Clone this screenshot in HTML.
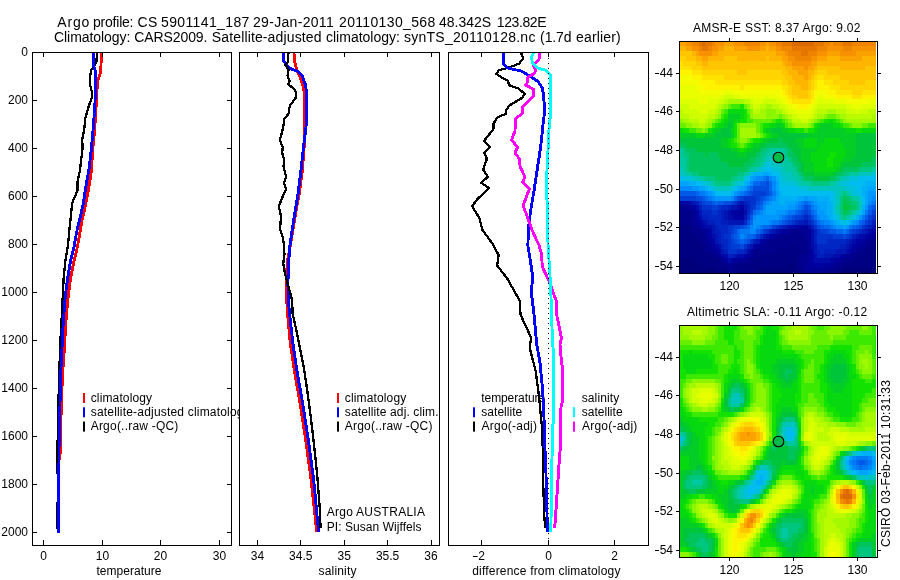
<!DOCTYPE html>
<html><head><meta charset="utf-8"><title>Argo profile</title>
<style>html,body{margin:0;padding:0;background:#fff;overflow:hidden}svg{display:block;will-change:transform}text{font-family:'Liberation Sans', sans-serif;fill:#000}</style>
</head><body>
<svg width="900" height="580" viewBox="0 0 900 580">
<rect width="900" height="580" fill="#fff"/>
<text y="27.3" font-size="14"><tspan x="57.3" textLength="32.1" lengthAdjust="spacing">Argo</tspan> <tspan x="93.0" textLength="40.5" lengthAdjust="spacing">profile:</tspan> <tspan x="137.6" textLength="19.8" lengthAdjust="spacing">CS</tspan> <tspan x="161.0" textLength="88.4" lengthAdjust="spacing">5901141_187</tspan> <tspan x="253.0" textLength="80.7" lengthAdjust="spacing">29-Jan-2011</tspan> <tspan x="339.0" textLength="96.2" lengthAdjust="spacing">20110130_568</tspan> <tspan x="439.0" textLength="52.0" lengthAdjust="spacing">48.342S</tspan> <tspan x="496.8" textLength="49.7" lengthAdjust="spacing">123.82E</tspan></text>
<text y="42.3" font-size="14"><tspan x="54.0" textLength="76.4" lengthAdjust="spacing">Climatology:</tspan> <tspan x="134.3" textLength="73.1" lengthAdjust="spacing">CARS2009.</tspan> <tspan x="211.8" textLength="109.7" lengthAdjust="spacing">Satellite-adjusted</tspan> <tspan x="326.0" textLength="73.9" lengthAdjust="spacing">climatology:</tspan> <tspan x="404.0" textLength="131.4" lengthAdjust="spacing">synTS_20110128.nc</tspan> <tspan x="540.1" textLength="31.4" lengthAdjust="spacing">(1.7d</tspan> <tspan x="576.0" textLength="44.7" lengthAdjust="spacing">earlier)</tspan></text>
<g id="ax1">
<polyline points="101.5,52.6 100.7,72.0 97.6,80.8 96.9,91.0 96.0,108.0 94.7,129.0 92.9,148.0 91.2,171.9 88.6,189.0 85.2,206.3 81.7,221.9 77.6,246.0 74.0,261.2 70.5,278.5 68.3,295.7 66.6,313.0 65.3,330.2 64.7,344.0 63.6,359.0 62.4,376.5 61.6,400.6 60.7,424.8 60.3,452.0 59.0,460.0 58.6,500.0 58.3,532.5" fill="none" stroke="#f00" stroke-width="2.9" stroke-linejoin="round" shape-rendering="crispEdges"/>
<polyline points="96.9,52.6 96.5,61.8 94.7,65.0 91.2,70.4 90.0,77.3 90.3,86.0 91.7,91.0 91.7,98.0 88.6,106.6 85.2,118.7 84.3,129.0 82.2,139.4 82.6,148.0 81.4,158.0 79.7,171.9 77.4,182.2 77.4,190.8 72.2,202.9 71.0,215.0 69.7,227.0 67.9,246.0 65.3,261.2 63.6,278.5 62.8,295.7 61.9,313.0 61.0,330.2 60.2,344.0 59.7,359.0 59.0,385.0 58.4,400.6 57.6,444.0 57.6,473.0 58.3,480.0 58.3,500.0 56.9,504.0 56.9,529.0" fill="none" stroke="#000" stroke-width="2.3" stroke-linejoin="round" shape-rendering="crispEdges"/>
<polyline points="93.4,52.6 93.4,65.0 95.2,70.4 95.5,91.0 94.7,108.0 93.4,125.6 91.5,148.0 89.1,168.4 86.0,185.7 83.4,202.9 80.0,218.4 76.6,232.2 74.2,246.0 70.5,261.2 67.6,278.5 65.3,295.7 64.0,313.0 62.8,330.2 62.2,344.0 61.0,367.9 60.2,393.7 59.7,419.6 59.1,442.0 58.6,521.0 58.1,532.8" fill="none" stroke="#00f" stroke-width="2.9" stroke-linejoin="round" shape-rendering="crispEdges"/>
<rect x="83" y="393.0" width="2" height="10" fill="#f00"/>
<rect x="83" y="407.3" width="2" height="10" fill="#00f"/>
<rect x="83" y="421.6" width="2" height="10" fill="#000"/>
<clipPath id="c1"><rect x="0" y="0" width="239" height="580"/></clipPath>
<g clip-path="url(#c1)">
<text x="90.7" y="401.5" font-size="12" text-anchor="start" textLength="61.4" lengthAdjust="spacing">climatology</text>
<text x="90.7" y="415.8" font-size="12" text-anchor="start" textLength="159" lengthAdjust="spacing">satellite-adjusted climatology</text>
<text x="90.7" y="430.0" font-size="12" text-anchor="start" textLength="87.6" lengthAdjust="spacing">Argo(..raw -QC)</text>
</g>
<rect x="32" y="52" width="200" height="1" fill="#000"/>
<rect x="32" y="545" width="200" height="1" fill="#000"/>
<rect x="32" y="52" width="1" height="494" fill="#000"/>
<rect x="231" y="52" width="1" height="494" fill="#000"/>
<rect x="43" y="540" width="1" height="5" fill="#000"/>
<rect x="43" y="52" width="1" height="5" fill="#000"/>
<rect x="102" y="540" width="1" height="5" fill="#000"/>
<rect x="102" y="52" width="1" height="5" fill="#000"/>
<rect x="160" y="540" width="1" height="5" fill="#000"/>
<rect x="160" y="52" width="1" height="5" fill="#000"/>
<rect x="219" y="540" width="1" height="5" fill="#000"/>
<rect x="219" y="52" width="1" height="5" fill="#000"/>
<rect x="32" y="52" width="5" height="1" fill="#000"/>
<rect x="227" y="52" width="4" height="1" fill="#000"/>
<text x="28" y="56.3" font-size="12" text-anchor="end">0</text>
<rect x="32" y="100" width="5" height="1" fill="#000"/>
<rect x="227" y="100" width="4" height="1" fill="#000"/>
<text x="28" y="104.3" font-size="12" text-anchor="end">200</text>
<rect x="32" y="148" width="5" height="1" fill="#000"/>
<rect x="227" y="148" width="4" height="1" fill="#000"/>
<text x="28" y="152.3" font-size="12" text-anchor="end">400</text>
<rect x="32" y="196" width="5" height="1" fill="#000"/>
<rect x="227" y="196" width="4" height="1" fill="#000"/>
<text x="28" y="200.3" font-size="12" text-anchor="end">600</text>
<rect x="32" y="244" width="5" height="1" fill="#000"/>
<rect x="227" y="244" width="4" height="1" fill="#000"/>
<text x="28" y="248.3" font-size="12" text-anchor="end">800</text>
<rect x="32" y="292" width="5" height="1" fill="#000"/>
<rect x="227" y="292" width="4" height="1" fill="#000"/>
<text x="28" y="296.3" font-size="12" text-anchor="end">1000</text>
<rect x="32" y="340" width="5" height="1" fill="#000"/>
<rect x="227" y="340" width="4" height="1" fill="#000"/>
<text x="28" y="344.3" font-size="12" text-anchor="end">1200</text>
<rect x="32" y="388" width="5" height="1" fill="#000"/>
<rect x="227" y="388" width="4" height="1" fill="#000"/>
<text x="28" y="392.3" font-size="12" text-anchor="end">1400</text>
<rect x="32" y="436" width="5" height="1" fill="#000"/>
<rect x="227" y="436" width="4" height="1" fill="#000"/>
<text x="28" y="440.3" font-size="12" text-anchor="end">1600</text>
<rect x="32" y="484" width="5" height="1" fill="#000"/>
<rect x="227" y="484" width="4" height="1" fill="#000"/>
<text x="28" y="488.3" font-size="12" text-anchor="end">1800</text>
<rect x="32" y="532" width="5" height="1" fill="#000"/>
<rect x="227" y="532" width="4" height="1" fill="#000"/>
<text x="28" y="536.3" font-size="12" text-anchor="end">2000</text>
<text x="43.5" y="560" font-size="12" text-anchor="middle">0</text>
<text x="102.5" y="560" font-size="12" text-anchor="middle">10</text>
<text x="160.5" y="560" font-size="12" text-anchor="middle">20</text>
<text x="219.5" y="560" font-size="12" text-anchor="middle">30</text>
<text x="96.5" y="574.5" font-size="12" text-anchor="start" textLength="65" lengthAdjust="spacing">temperature</text>
</g>
<g id="ax2">
<polyline points="293.9,52.6 294.8,61.8 296.5,69.6 299.9,76.4 303.0,86.0 304.6,94.6 304.8,120.4 304.6,134.2 304.2,146.0 302.2,171.9 299.4,192.6 295.6,213.2 293.0,228.8 290.2,246.0 287.5,261.0 286.1,278.5 286.1,295.7 287.0,304.3 288.2,321.6 290.4,344.0 294.8,373.0 299.9,402.3 306.0,442.0 311.1,479.7 316.8,532.2" fill="none" stroke="#f00" stroke-width="2.9" stroke-linejoin="round" shape-rendering="crispEdges"/>
<polyline points="283.9,52.6 283.6,60.9 287.0,66.1 292.2,69.6 298.2,71.3 302.5,76.4 305.6,85.1 306.8,94.6 306.8,120.4 305.1,134.2 303.4,148.0 300.8,171.9 298.2,192.6 294.8,213.2 291.8,232.2 289.9,246.0 288.7,261.2 287.9,283.7 288.4,300.9 290.4,321.6 293.0,344.0 297.3,373.0 302.5,402.3 308.6,442.0 313.7,479.7 318.6,532.2" fill="none" stroke="#00f" stroke-width="2.9" stroke-linejoin="round" shape-rendering="crispEdges"/>
<polyline points="288.4,52.6 288.2,61.8 285.3,65.2 288.7,69.6 287.5,75.6 289.6,80.8 288.2,84.6 293.9,88.5 296.1,92.8 295.6,98.0 290.4,104.9 288.7,109.2 288.7,113.5 284.4,118.7 283.2,127.3 281.5,134.2 279.8,140.2 282.7,147.1 282.2,152.9 283.9,158.9 283.6,166.7 286.1,177.0 284.1,183.1 286.1,189.1 282.2,197.7 278.9,206.3 281.0,216.7 280.1,228.8 282.7,237.4 284.2,246.0 284.4,254.3 283.2,263.8 285.3,275.0 288.7,287.1 292.2,300.9 292.5,313.0 295.6,326.8 299.1,344.0 304.2,369.6 307.7,393.7 311.1,419.6 313.7,442.0 317.2,474.5 319.8,509.0 320.6,528.0" fill="none" stroke="#000" stroke-width="2.3" stroke-linejoin="round" shape-rendering="crispEdges"/>
<rect x="337" y="393.0" width="2" height="10" fill="#f00"/>
<rect x="337" y="407.3" width="2" height="10" fill="#00f"/>
<rect x="337" y="421.6" width="2" height="10" fill="#000"/>
<text x="344.8" y="401.5" font-size="12" text-anchor="start" textLength="61.4" lengthAdjust="spacing">climatology</text>
<text x="344.8" y="415.8" font-size="12" text-anchor="start" textLength="93.7" lengthAdjust="spacing">satellite adj. clim.</text>
<text x="344.8" y="430.0" font-size="12" text-anchor="start" textLength="87.6" lengthAdjust="spacing">Argo(..raw -QC)</text>
<text x="326.7" y="516.2" font-size="12" text-anchor="start" textLength="98.3" lengthAdjust="spacing">Argo AUSTRALIA</text>
<text x="326.7" y="530.5" font-size="12" text-anchor="start" textLength="94.8" lengthAdjust="spacing">PI: Susan Wijffels</text>
<rect x="239" y="52" width="201" height="1" fill="#000"/>
<rect x="239" y="545" width="201" height="1" fill="#000"/>
<rect x="239" y="52" width="1" height="494" fill="#000"/>
<rect x="439" y="52" width="1" height="494" fill="#000"/>
<rect x="257" y="540" width="1" height="5" fill="#000"/>
<rect x="257" y="52" width="1" height="5" fill="#000"/>
<rect x="300" y="540" width="1" height="5" fill="#000"/>
<rect x="300" y="52" width="1" height="5" fill="#000"/>
<rect x="344" y="540" width="1" height="5" fill="#000"/>
<rect x="344" y="52" width="1" height="5" fill="#000"/>
<rect x="387" y="540" width="1" height="5" fill="#000"/>
<rect x="387" y="52" width="1" height="5" fill="#000"/>
<rect x="431" y="540" width="1" height="5" fill="#000"/>
<rect x="431" y="52" width="1" height="5" fill="#000"/>
<text x="257.5" y="560" font-size="12" text-anchor="middle">34</text>
<text x="300.8" y="560" font-size="12" text-anchor="middle">34.5</text>
<text x="344.3" y="560" font-size="12" text-anchor="middle">35</text>
<text x="387.6" y="560" font-size="12" text-anchor="middle">35.5</text>
<text x="431" y="560" font-size="12" text-anchor="middle">36</text>
<text x="318.5" y="574.5" font-size="12" text-anchor="start" textLength="38" lengthAdjust="spacing">salinity</text>
</g>
<g id="ax3">
<text x="481.3" y="401.5" font-size="12" text-anchor="start" textLength="63.8" lengthAdjust="spacing">temperature</text>
<text x="481.3" y="415.8" font-size="12" text-anchor="start" textLength="40.9" lengthAdjust="spacing">satellite</text>
<text x="481.6" y="430.0" font-size="12" text-anchor="start" textLength="55.3" lengthAdjust="spacing">Argo(-adj)</text>
<text x="581.7" y="401.5" font-size="12" text-anchor="start" textLength="37.5" lengthAdjust="spacing">salinity</text>
<text x="581.7" y="415.8" font-size="12" text-anchor="start" textLength="40.9" lengthAdjust="spacing">satellite</text>
<text x="582.0" y="430.0" font-size="12" text-anchor="start" textLength="55.3" lengthAdjust="spacing">Argo(-adj)</text>
<rect x="473" y="407.3" width="2" height="10" fill="#00f"/>
<rect x="473" y="421.6" width="2" height="10" fill="#000"/>
<rect x="573" y="407.3" width="2" height="10" fill="#0ff"/>
<rect x="573" y="421.6" width="2" height="10" fill="#f0f"/>
<polyline points="521.0,52.6 523.1,58.3 519.3,63.5 510.7,67.0 498.6,70.4 496.5,73.9 501.2,77.3 508.1,80.8 508.9,85.1 518.4,88.5 524.8,93.7 521.9,98.0 508.9,105.8 506.3,110.1 506.3,113.5 496.9,117.8 493.4,123.9 493.4,129.0 483.9,141.1 490.0,147.0 484.3,153.2 486.9,158.9 483.1,169.3 487.9,177.0 481.0,182.6 489.1,188.2 477.0,199.4 472.2,206.3 479.6,218.4 482.2,229.6 493.4,245.0 498.6,255.2 497.2,265.6 507.2,278.5 519.8,300.9 520.5,314.7 531.3,338.0 530.1,344.0 530.0,348.9 535.7,371.3 539.1,397.2 541.7,424.8 542.6,442.0 543.4,490.0 544.3,515.9 545.1,528.0" fill="none" stroke="#000" stroke-width="2.3" stroke-linejoin="round" shape-rendering="crispEdges"/>
<polyline points="503.2,52.6 503.2,63.5 507.2,67.8 521.9,71.3 530.5,76.4 538.2,81.6 542.6,88.5 543.9,99.7 544.6,111.8 542.9,125.6 541.7,137.7 540.5,148.0 537.4,168.4 534.3,189.1 530.5,211.5 528.4,228.8 527.9,246.0 530.5,261.2 532.7,276.8 531.3,292.3 533.9,313.0 536.7,344.0 540.0,362.7 542.2,385.1 543.8,411.0 544.7,442.0 546.0,474.5 546.9,509.0 547.4,532.2" fill="none" stroke="#00f" stroke-width="2.9" stroke-linejoin="round" shape-rendering="crispEdges"/>
<polyline points="539.6,52.6 539.1,59.2 533.1,65.2 535.7,69.6 534.8,73.0 527.9,77.3 527.9,81.6 525.7,85.1 533.9,89.4 533.6,96.3 522.7,106.6 522.4,113.5 515.5,118.7 515.0,130.8 511.5,140.2 517.6,147.0 515.0,152.9 519.3,158.9 520.1,166.7 525.0,177.0 522.7,182.2 529.3,189.1 523.1,205.5 527.9,218.4 532.2,230.5 538.9,245.0 541.7,254.3 542.2,266.4 549.4,281.9 556.9,302.6 556.3,313.0 561.5,338.0 560.0,344.0 561.2,359.2 562.9,371.3 562.4,386.8 562.9,398.9 561.0,407.5 560.1,419.6 560.7,442.0 558.9,465.9 557.2,491.7 555.5,517.6 554.6,528.3" fill="none" stroke="#f0f" stroke-width="2.9" stroke-linejoin="round" shape-rendering="crispEdges"/>
<polyline points="533.9,52.6 531.7,56.6 532.2,62.7 537.4,67.8 546.0,70.4 550.3,74.7 550.8,91.1 550.3,117.0 548.9,130.8 548.1,148.0 546.9,171.9 546.3,189.1 547.4,206.3 547.4,223.6 548.1,246.0 549.4,266.4 550.7,287.1 551.5,313.0 552.6,344.0 553.8,354.1 553.8,419.6 552.6,426.5 552.5,442.0 551.5,474.5 551.2,509.0 550.8,532.2" fill="none" stroke="#0ff" stroke-width="2.9" stroke-linejoin="round" shape-rendering="crispEdges"/>
<line x1="548.5" y1="53" x2="548.5" y2="545" stroke="#000" stroke-width="1" stroke-dasharray="1 4" shape-rendering="crispEdges"/>
<rect x="448" y="52" width="201" height="1" fill="#000"/>
<rect x="448" y="545" width="201" height="1" fill="#000"/>
<rect x="448" y="52" width="1" height="494" fill="#000"/>
<rect x="648" y="52" width="1" height="494" fill="#000"/>
<rect x="481" y="540" width="1" height="5" fill="#000"/>
<rect x="481" y="52" width="1" height="5" fill="#000"/>
<rect x="548" y="540" width="1" height="5" fill="#000"/>
<rect x="548" y="52" width="1" height="5" fill="#000"/>
<rect x="614" y="540" width="1" height="5" fill="#000"/>
<rect x="614" y="52" width="1" height="5" fill="#000"/>
<text x="481.7" y="560" font-size="12" text-anchor="middle">2</text>
<text x="548.5" y="560" font-size="12" text-anchor="middle">0</text>
<text x="614.5" y="560" font-size="12" text-anchor="middle">2</text>
<rect x="473" y="556" width="4.600000000000023" height="1" fill="#000"/>
<text x="472.2" y="574.5" font-size="12" text-anchor="start" textLength="148.2" lengthAdjust="spacing">difference from climatology</text>
</g>
<g>
<clipPath id="cm41"><rect x="679" y="41" width="197" height="233"/></clipPath>
<g clip-path="url(#cm41)">
<g transform="translate(679.5,41.5) scale(3.2,4.82)" shape-rendering="crispEdges">
<path fill="#fba200" d="M0 0h2v1h-2zM14 0h3v1h-3zM27 0h1v1h-1zM2 1h2v1h-2zM12 1h2v1h-2zM17 1h4v1h-4zM25 1h2v1h-2zM28 1h2v1h-2zM5 2h1v1h-1zM10 2h2v1h-2zM30 2h3v1h-3zM46 2h4v1h-4zM55 2h7v1h-7zM7 3h2v1h-2zM32 3h2v1h-2zM43 3h3v1h-3zM50 3h7v1h-7zM33 4h2v1h-2zM41 4h2v1h-2zM35 5h4v1h-4zM40 5h2v1h-2zM37 6h3v1h-3zM39 7h1v1h-1z"/>
<path fill="#f79100" d="M2 0h2v1h-2zM11 0h3v1h-3zM17 0h3v1h-3zM25 0h2v1h-2zM28 0h2v1h-2zM47 0h1v1h-1zM4 1h2v1h-2zM10 1h2v1h-2zM21 1h4v1h-4zM30 1h2v1h-2zM46 1h5v1h-5zM54 1h8v1h-8zM6 2h4v1h-4zM33 2h1v1h-1zM43 2h3v1h-3zM50 2h5v1h-5zM34 3h2v1h-2zM41 3h2v1h-2zM35 4h6v1h-6zM39 5h1v1h-1z"/>
<path fill="#ee8400" d="M4 0h2v1h-2zM10 0h1v1h-1zM20 0h5v1h-5zM30 0h2v1h-2zM45 0h2v1h-2zM48 0h3v1h-3zM54 0h8v1h-8zM6 1h1v1h-1zM9 1h1v1h-1zM32 1h3v1h-3zM43 1h3v1h-3zM51 1h3v1h-3zM34 2h4v1h-4zM40 2h3v1h-3zM36 3h5v1h-5z"/>
<path fill="#e57600" d="M6 0h1v1h-1zM8 0h2v1h-2zM32 0h3v1h-3zM42 0h3v1h-3zM51 0h3v1h-3zM7 1h2v1h-2zM35 1h8v1h-8zM38 2h2v1h-2z"/>
<path fill="#dc6900" d="M7 0h1v1h-1zM35 0h7v1h-7z"/>
<path fill="#fdb500" d="M0 1h2v1h-2zM14 1h3v1h-3zM27 1h1v1h-1zM4 2h1v1h-1zM12 2h18v1h-18zM5 3h2v1h-2zM9 3h5v1h-5zM18 3h9v1h-9zM28 3h4v1h-4zM46 3h4v1h-4zM57 3h5v1h-5zM7 4h2v1h-2zM32 4h1v1h-1zM43 4h19v1h-19zM33 5h2v1h-2zM42 5h1v1h-1zM50 5h8v1h-8zM34 6h3v1h-3zM40 6h2v1h-2zM35 7h4v1h-4zM40 7h1v1h-1zM36 8h4v1h-4zM38 9h2v1h-2z"/>
<path fill="#ffc600" d="M0 2h4v1h-4zM2 3h3v1h-3zM14 3h4v1h-4zM27 3h1v1h-1zM5 4h2v1h-2zM9 4h23v1h-23zM7 5h26v1h-26zM43 5h7v1h-7zM58 5h4v1h-4zM18 6h3v1h-3zM32 6h2v1h-2zM42 6h1v1h-1zM46 6h16v1h-16zM33 7h2v1h-2zM41 7h1v1h-1zM50 7h12v1h-12zM34 8h2v1h-2zM40 8h1v1h-1zM53 8h5v1h-5zM35 9h3v1h-3zM40 9h1v1h-1zM35 10h5v1h-5zM37 11h3v1h-3z"/>
<path fill="#ffd400" d="M0 3h2v1h-2zM1 4h4v1h-4zM4 5h3v1h-3zM7 6h11v1h-11zM21 6h11v1h-11zM43 6h3v1h-3zM14 7h19v1h-19zM42 7h1v1h-1zM45 7h5v1h-5zM32 8h2v1h-2zM41 8h1v1h-1zM48 8h5v1h-5zM58 8h4v1h-4zM34 9h1v1h-1zM41 9h1v1h-1zM50 9h12v1h-12zM34 10h1v1h-1zM40 10h1v1h-1zM54 10h3v1h-3zM35 11h2v1h-2zM40 11h1v1h-1z"/>
<path fill="#ffe300" d="M0 4h1v1h-1zM0 5h4v1h-4zM4 6h3v1h-3zM7 7h7v1h-7zM43 7h2v1h-2zM11 8h21v1h-21zM42 8h1v1h-1zM45 8h3v1h-3zM19 9h1v1h-1zM32 9h2v1h-2zM42 9h1v1h-1zM47 9h3v1h-3zM33 10h1v1h-1zM41 10h1v1h-1zM49 10h5v1h-5zM57 10h5v1h-5zM34 11h1v1h-1zM41 11h1v1h-1zM54 11h3v1h-3zM35 12h6v1h-6z"/>
<path fill="#fff300" d="M0 6h4v1h-4zM4 7h3v1h-3zM6 8h5v1h-5zM43 8h2v1h-2zM8 9h11v1h-11zM20 9h12v1h-12zM43 9h4v1h-4zM32 10h1v1h-1zM42 10h1v1h-1zM46 10h3v1h-3zM33 11h1v1h-1zM49 11h5v1h-5zM57 11h5v1h-5zM34 12h1v1h-1zM41 12h1v1h-1zM37 13h3v1h-3z"/>
<path fill="#f5fb00" d="M0 7h4v1h-4zM0 8h6v1h-6zM5 9h3v1h-3zM6 10h8v1h-8zM17 10h15v1h-15zM43 10h3v1h-3zM31 11h2v1h-2zM42 11h1v1h-1zM45 11h4v1h-4zM33 12h1v1h-1zM52 12h7v1h-7zM35 13h2v1h-2zM40 13h1v1h-1z"/>
<path fill="#e9ff00" d="M0 9h5v1h-5zM0 10h6v1h-6zM14 10h3v1h-3zM0 11h13v1h-13zM19 11h8v1h-8zM28 11h3v1h-3zM43 11h2v1h-2zM6 12h3v1h-3zM32 12h1v1h-1zM42 12h1v1h-1zM48 12h4v1h-4zM59 12h3v1h-3zM34 13h1v1h-1zM41 13h1v1h-1zM54 13h3v1h-3zM36 14h5v1h-5z"/>
<path fill="#ddff00" d="M13 11h1v1h-1zM17 11h2v1h-2zM27 11h1v1h-1zM0 12h6v1h-6zM9 12h3v1h-3zM23 12h3v1h-3zM30 12h2v1h-2zM43 12h5v1h-5zM3 13h8v1h-8zM33 13h1v1h-1zM42 13h1v1h-1zM52 13h2v1h-2zM57 13h5v1h-5zM6 14h3v1h-3zM34 14h2v1h-2zM41 14h1v1h-1zM55 14h1v1h-1zM37 15h4v1h-4z"/>
<path fill="#cefe00" d="M14 11h3v1h-3zM12 12h2v1h-2zM22 12h1v1h-1zM26 12h4v1h-4zM0 13h3v1h-3zM11 13h1v1h-1zM23 13h2v1h-2zM31 13h2v1h-2zM43 13h9v1h-9zM1 14h5v1h-5zM9 14h2v1h-2zM33 14h1v1h-1zM42 14h1v1h-1zM52 14h3v1h-3zM56 14h3v1h-3zM3 15h6v1h-6zM35 15h2v1h-2zM41 15h1v1h-1zM6 16h2v1h-2zM38 16h2v1h-2z"/>
<path fill="#bbfb00" d="M14 12h1v1h-1zM20 12h2v1h-2zM12 13h1v1h-1zM22 13h1v1h-1zM25 13h2v1h-2zM29 13h2v1h-2zM0 14h1v1h-1zM11 14h1v1h-1zM23 14h2v1h-2zM32 14h1v1h-1zM43 14h3v1h-3zM49 14h3v1h-3zM59 14h3v1h-3zM0 15h3v1h-3zM9 15h2v1h-2zM34 15h1v1h-1zM42 15h1v1h-1zM52 15h8v1h-8zM3 16h3v1h-3zM8 16h1v1h-1zM35 16h3v1h-3zM40 16h1v1h-1zM6 17h2v1h-2z"/>
<path fill="#a4f800" d="M15 12h5v1h-5zM13 13h1v1h-1zM27 13h2v1h-2zM12 14h1v1h-1zM25 14h2v1h-2zM30 14h2v1h-2zM46 14h3v1h-3zM11 15h1v1h-1zM23 15h4v1h-4zM33 15h1v1h-1zM43 15h2v1h-2zM50 15h2v1h-2zM60 15h2v1h-2zM1 16h2v1h-2zM9 16h1v1h-1zM41 16h1v1h-1zM52 16h10v1h-10zM4 17h2v1h-2zM8 17h1v1h-1zM36 17h4v1h-4zM19 18h5v1h-5zM19 19h5v1h-5z"/>
<path fill="#8af600" d="M14 13h1v1h-1zM21 13h1v1h-1zM22 14h1v1h-1zM27 14h3v1h-3zM12 15h1v1h-1zM22 15h1v1h-1zM27 15h4v1h-4zM32 15h1v1h-1zM45 15h1v1h-1zM49 15h1v1h-1zM0 16h1v1h-1zM10 16h1v1h-1zM34 16h1v1h-1zM42 16h1v1h-1zM51 16h1v1h-1zM2 17h2v1h-2zM9 17h1v1h-1zM19 17h5v1h-5zM35 17h1v1h-1zM40 17h1v1h-1zM54 17h3v1h-3zM7 18h1v1h-1zM24 19h1v1h-1zM19 20h2v1h-2z"/>
<path fill="#66f000" d="M15 13h1v1h-1zM20 13h1v1h-1zM13 14h1v1h-1zM21 14h1v1h-1zM31 15h1v1h-1zM46 15h3v1h-3zM11 16h1v1h-1zM23 16h6v1h-6zM33 16h1v1h-1zM43 16h1v1h-1zM50 16h1v1h-1zM0 17h2v1h-2zM18 17h1v1h-1zM24 17h1v1h-1zM34 17h1v1h-1zM41 17h1v1h-1zM53 17h1v1h-1zM57 17h2v1h-2zM5 18h2v1h-2zM8 18h1v1h-1zM18 18h1v1h-1zM24 18h1v1h-1zM18 19h1v1h-1zM25 19h1v1h-1zM18 20h1v1h-1zM21 20h1v1h-1zM19 21h1v1h-1z"/>
<path fill="#3ce900" d="M16 13h3v1h-3zM14 14h1v1h-1zM13 15h1v1h-1zM21 15h1v1h-1zM12 16h1v1h-1zM21 16h2v1h-2zM29 16h1v1h-1zM32 16h1v1h-1zM44 16h1v1h-1zM49 16h1v1h-1zM10 17h1v1h-1zM25 17h1v1h-1zM33 17h1v1h-1zM51 17h2v1h-2zM59 17h3v1h-3zM3 18h2v1h-2zM25 18h1v1h-1zM39 18h1v1h-1zM26 19h1v1h-1zM17 20h1v1h-1zM22 20h1v1h-1zM18 21h1v1h-1zM20 21h1v1h-1z"/>
<path fill="#12e200" d="M19 13h1v1h-1zM20 14h1v1h-1zM14 15h1v1h-1zM20 15h1v1h-1zM13 16h1v1h-1zM19 16h2v1h-2zM30 16h2v1h-2zM45 16h2v1h-2zM48 16h1v1h-1zM11 17h1v1h-1zM17 17h1v1h-1zM26 17h2v1h-2zM42 17h1v1h-1zM50 17h1v1h-1zM1 18h2v1h-2zM9 18h1v1h-1zM17 18h1v1h-1zM36 18h3v1h-3zM40 18h2v1h-2zM55 18h2v1h-2zM17 19h1v1h-1zM27 19h1v1h-1zM16 20h1v1h-1zM23 20h2v1h-2zM16 21h2v1h-2zM21 21h1v1h-1zM19 22h1v1h-1zM47 23h2v1h-2zM46 24h2v1h-2zM46 25h2v1h-2z"/>
<path fill="#07d911" d="M15 14h5v1h-5zM19 15h1v1h-1zM14 16h1v1h-1zM17 16h2v1h-2zM47 16h1v1h-1zM12 17h2v1h-2zM28 17h2v1h-2zM32 17h1v1h-1zM43 17h1v1h-1zM48 17h2v1h-2zM0 18h1v1h-1zM10 18h1v1h-1zM16 18h1v1h-1zM26 18h1v1h-1zM34 18h2v1h-2zM42 18h1v1h-1zM52 18h3v1h-3zM57 18h5v1h-5zM5 19h3v1h-3zM28 19h1v1h-1zM15 20h1v1h-1zM25 20h1v1h-1zM39 20h4v1h-4zM45 20h5v1h-5zM15 21h1v1h-1zM22 21h1v1h-1zM39 21h4v1h-4zM44 21h7v1h-7zM18 22h1v1h-1zM20 22h1v1h-1zM43 22h9v1h-9zM41 23h6v1h-6zM49 23h3v1h-3zM41 24h5v1h-5zM48 24h3v1h-3zM42 25h4v1h-4zM48 25h2v1h-2zM42 26h7v1h-7z"/>
<path fill="#04ce26" d="M15 15h4v1h-4zM15 16h2v1h-2zM14 17h1v1h-1zM16 17h1v1h-1zM30 17h2v1h-2zM44 17h4v1h-4zM11 18h2v1h-2zM27 18h2v1h-2zM32 18h2v1h-2zM43 18h9v1h-9zM0 19h5v1h-5zM8 19h3v1h-3zM16 19h1v1h-1zM29 19h2v1h-2zM40 19h15v1h-15zM13 20h2v1h-2zM26 20h2v1h-2zM36 20h3v1h-3zM43 20h2v1h-2zM50 20h5v1h-5zM13 21h2v1h-2zM23 21h2v1h-2zM37 21h2v1h-2zM43 21h1v1h-1zM51 21h4v1h-4zM16 22h2v1h-2zM21 22h2v1h-2zM38 22h5v1h-5zM52 22h3v1h-3zM18 23h3v1h-3zM38 23h3v1h-3zM52 23h3v1h-3zM38 24h3v1h-3zM51 24h3v1h-3zM39 25h3v1h-3zM50 25h1v1h-1zM39 26h3v1h-3zM49 26h1v1h-1zM42 27h6v1h-6z"/>
<path fill="#00c43a" d="M15 17h1v1h-1zM13 18h3v1h-3zM29 18h3v1h-3zM11 19h5v1h-5zM31 19h9v1h-9zM55 19h7v1h-7zM0 20h13v1h-13zM28 20h3v1h-3zM32 20h4v1h-4zM55 20h7v1h-7zM2 21h11v1h-11zM25 21h2v1h-2zM34 21h3v1h-3zM55 21h7v1h-7zM5 22h11v1h-11zM23 22h2v1h-2zM35 22h3v1h-3zM55 22h7v1h-7zM8 23h1v1h-1zM12 23h6v1h-6zM21 23h3v1h-3zM36 23h2v1h-2zM55 23h7v1h-7zM13 24h9v1h-9zM37 24h1v1h-1zM54 24h6v1h-6zM15 25h5v1h-5zM38 25h1v1h-1zM51 25h6v1h-6zM38 26h1v1h-1zM50 26h1v1h-1zM39 27h3v1h-3zM48 27h1v1h-1zM42 28h5v1h-5zM51 33h1v1h-1zM51 34h2v1h-2z"/>
<path fill="#00c55c" d="M31 20h1v1h-1zM0 21h2v1h-2zM27 21h7v1h-7zM2 22h3v1h-3zM25 22h1v1h-1zM34 22h1v1h-1zM3 23h5v1h-5zM9 23h3v1h-3zM24 23h1v1h-1zM34 23h2v1h-2zM3 24h10v1h-10zM22 24h2v1h-2zM35 24h2v1h-2zM60 24h2v1h-2zM3 25h12v1h-12zM20 25h3v1h-3zM36 25h2v1h-2zM57 25h4v1h-4zM3 26h18v1h-18zM37 26h1v1h-1zM51 26h5v1h-5zM6 27h12v1h-12zM38 27h1v1h-1zM49 27h2v1h-2zM11 28h5v1h-5zM39 28h3v1h-3zM47 28h2v1h-2zM51 32h2v1h-2zM52 33h2v1h-2zM53 34h2v1h-2zM51 35h2v1h-2z"/>
<path fill="#00c8a1" d="M0 22h1v1h-1zM28 22h5v1h-5zM0 23h1v1h-1zM27 23h2v1h-2zM32 23h1v1h-1zM0 24h2v1h-2zM26 24h1v1h-1zM32 24h2v1h-2zM0 25h2v1h-2zM25 25h1v1h-1zM32 25h3v1h-3zM1 26h1v1h-1zM22 26h2v1h-2zM33 26h3v1h-3zM60 26h2v1h-2zM2 27h2v1h-2zM20 27h1v1h-1zM35 27h2v1h-2zM53 27h3v1h-3zM6 28h2v1h-2zM18 28h2v1h-2zM36 28h2v1h-2zM50 28h1v1h-1zM10 29h1v1h-1zM16 29h1v1h-1zM38 29h3v1h-3zM47 29h2v1h-2zM50 31h1v1h-1zM52 31h1v1h-1zM54 32h2v1h-2zM49 34h1v1h-1zM54 35h1v1h-1zM50 36h1v1h-1zM52 36h1v1h-1z"/>
<path fill="#00c67f" d="M1 22h1v1h-1zM26 22h2v1h-2zM33 22h1v1h-1zM1 23h2v1h-2zM25 23h2v1h-2zM33 23h1v1h-1zM2 24h1v1h-1zM24 24h2v1h-2zM34 24h1v1h-1zM2 25h1v1h-1zM23 25h2v1h-2zM35 25h1v1h-1zM61 25h1v1h-1zM2 26h1v1h-1zM21 26h1v1h-1zM36 26h1v1h-1zM56 26h4v1h-4zM4 27h2v1h-2zM18 27h2v1h-2zM37 27h1v1h-1zM51 27h2v1h-2zM8 28h3v1h-3zM16 28h2v1h-2zM38 28h1v1h-1zM49 28h1v1h-1zM11 29h5v1h-5zM41 29h6v1h-6zM51 31h1v1h-1zM50 32h1v1h-1zM53 32h1v1h-1zM50 33h1v1h-1zM54 33h2v1h-2zM50 34h1v1h-1zM55 34h1v1h-1zM50 35h1v1h-1zM53 35h1v1h-1zM51 36h1v1h-1z"/>
<path fill="#00c4bd" d="M29 23h3v1h-3zM27 24h5v1h-5zM26 25h1v1h-1zM29 25h3v1h-3zM0 26h1v1h-1zM24 26h1v1h-1zM31 26h2v1h-2zM0 27h2v1h-2zM21 27h1v1h-1zM32 27h3v1h-3zM56 27h4v1h-4zM4 28h2v1h-2zM33 28h3v1h-3zM51 28h2v1h-2zM9 29h1v1h-1zM17 29h1v1h-1zM36 29h2v1h-2zM49 29h1v1h-1zM11 30h5v1h-5zM40 30h12v1h-12zM49 31h1v1h-1zM53 31h1v1h-1zM49 32h1v1h-1zM49 33h1v1h-1zM56 33h1v1h-1zM56 34h1v1h-1zM49 35h1v1h-1zM55 35h1v1h-1zM53 36h1v1h-1z"/>
<path fill="#00c1d9" d="M27 25h2v1h-2zM25 26h2v1h-2zM29 26h2v1h-2zM22 27h1v1h-1zM31 27h1v1h-1zM60 27h2v1h-2zM1 28h3v1h-3zM20 28h1v1h-1zM31 28h2v1h-2zM53 28h3v1h-3zM7 29h2v1h-2zM18 29h2v1h-2zM32 29h4v1h-4zM50 29h3v1h-3zM10 30h1v1h-1zM16 30h1v1h-1zM37 30h3v1h-3zM52 30h3v1h-3zM48 31h1v1h-1zM54 31h2v1h-2zM48 32h1v1h-1zM56 32h1v1h-1zM48 33h1v1h-1zM48 34h1v1h-1zM48 35h1v1h-1zM49 36h1v1h-1zM54 36h1v1h-1zM51 37h1v1h-1z"/>
<path fill="#00bcf1" d="M27 26h2v1h-2zM29 27h2v1h-2zM0 28h1v1h-1zM21 28h1v1h-1zM56 28h5v1h-5zM5 29h2v1h-2zM31 29h1v1h-1zM53 29h5v1h-5zM9 30h1v1h-1zM17 30h1v1h-1zM31 30h6v1h-6zM55 30h2v1h-2zM11 31h5v1h-5zM32 31h16v1h-16zM56 31h1v1h-1zM47 32h1v1h-1zM57 32h1v1h-1zM57 33h1v1h-1zM56 35h1v1h-1zM48 36h1v1h-1zM50 37h1v1h-1zM52 37h1v1h-1z"/>
<path fill="#00b0f5" d="M23 27h3v1h-3zM28 27h1v1h-1zM30 28h1v1h-1zM61 28h1v1h-1zM3 29h2v1h-2zM20 29h1v1h-1zM58 29h4v1h-4zM8 30h1v1h-1zM18 30h1v1h-1zM57 30h2v1h-2zM16 31h1v1h-1zM31 31h1v1h-1zM57 31h1v1h-1zM31 32h6v1h-6zM43 32h4v1h-4zM31 33h2v1h-2zM46 33h2v1h-2zM46 34h2v1h-2zM57 34h1v1h-1zM46 35h2v1h-2zM47 36h1v1h-1zM55 36h1v1h-1zM49 37h1v1h-1zM53 37h1v1h-1z"/>
<path fill="#00a4fa" d="M26 27h2v1h-2zM22 28h1v1h-1zM0 29h3v1h-3zM21 29h1v1h-1zM30 29h1v1h-1zM6 30h2v1h-2zM19 30h1v1h-1zM30 30h1v1h-1zM59 30h3v1h-3zM10 31h1v1h-1zM58 31h1v1h-1zM30 32h1v1h-1zM37 32h2v1h-2zM40 32h3v1h-3zM58 32h1v1h-1zM29 33h2v1h-2zM33 33h3v1h-3zM43 33h3v1h-3zM58 33h1v1h-1zM27 34h7v1h-7zM44 34h2v1h-2zM27 35h3v1h-3zM45 35h1v1h-1zM57 35h1v1h-1zM46 36h1v1h-1zM48 37h1v1h-1zM51 38h1v1h-1z"/>
<path fill="#0098fe" d="M23 28h1v1h-1zM29 28h1v1h-1zM4 30h2v1h-2zM20 30h1v1h-1zM9 31h1v1h-1zM17 31h1v1h-1zM30 31h1v1h-1zM59 31h3v1h-3zM11 32h5v1h-5zM39 32h1v1h-1zM59 32h1v1h-1zM28 33h1v1h-1zM36 33h1v1h-1zM42 33h1v1h-1zM34 34h2v1h-2zM43 34h1v1h-1zM58 34h1v1h-1zM26 35h1v1h-1zM30 35h3v1h-3zM43 35h2v1h-2zM24 36h7v1h-7zM44 36h2v1h-2zM56 36h1v1h-1zM23 37h5v1h-5zM47 37h1v1h-1zM54 37h1v1h-1zM23 38h1v1h-1zM49 38h2v1h-2zM52 38h1v1h-1z"/>
<path fill="#0089fa" d="M24 28h2v1h-2zM28 28h1v1h-1zM22 29h1v1h-1zM29 29h1v1h-1zM0 30h4v1h-4zM29 30h1v1h-1zM8 31h1v1h-1zM18 31h1v1h-1zM10 32h1v1h-1zM16 32h1v1h-1zM29 32h1v1h-1zM60 32h2v1h-2zM27 33h1v1h-1zM37 33h1v1h-1zM41 33h1v1h-1zM59 33h1v1h-1zM26 34h1v1h-1zM36 34h1v1h-1zM42 34h1v1h-1zM25 35h1v1h-1zM33 35h1v1h-1zM23 36h1v1h-1zM31 36h1v1h-1zM43 36h1v1h-1zM28 37h1v1h-1zM45 37h2v1h-2zM55 37h1v1h-1zM22 38h1v1h-1zM24 38h1v1h-1zM48 38h1v1h-1zM22 39h2v1h-2zM19 40h1v1h-1z"/>
<path fill="#0079f4" d="M26 28h1v1h-1zM21 30h1v1h-1zM6 31h2v1h-2zM19 31h1v1h-1zM29 31h1v1h-1zM9 32h1v1h-1zM28 32h1v1h-1zM26 33h1v1h-1zM38 33h1v1h-1zM40 33h1v1h-1zM60 33h1v1h-1zM37 34h1v1h-1zM41 34h1v1h-1zM24 35h1v1h-1zM34 35h2v1h-2zM42 35h1v1h-1zM58 35h1v1h-1zM32 36h1v1h-1zM57 36h1v1h-1zM29 37h2v1h-2zM44 37h1v1h-1zM25 38h1v1h-1zM47 38h1v1h-1zM53 38h1v1h-1zM19 39h3v1h-3zM51 39h1v1h-1zM20 40h1v1h-1z"/>
<path fill="#0068ee" d="M27 28h1v1h-1zM23 29h2v1h-2zM28 29h1v1h-1zM22 30h1v1h-1zM28 30h1v1h-1zM5 31h1v1h-1zM20 31h1v1h-1zM8 32h1v1h-1zM17 32h1v1h-1zM27 32h1v1h-1zM11 33h1v1h-1zM39 33h1v1h-1zM61 33h1v1h-1zM25 34h1v1h-1zM38 34h1v1h-1zM59 34h1v1h-1zM23 35h1v1h-1zM36 35h1v1h-1zM41 35h1v1h-1zM33 36h1v1h-1zM42 36h1v1h-1zM22 37h1v1h-1zM31 37h1v1h-1zM43 37h1v1h-1zM56 37h1v1h-1zM21 38h1v1h-1zM26 38h2v1h-2zM45 38h2v1h-2zM54 38h1v1h-1zM18 39h1v1h-1zM24 39h1v1h-1zM49 39h2v1h-2zM52 39h1v1h-1zM18 40h1v1h-1zM21 40h2v1h-2zM19 41h1v1h-1z"/>
<path fill="#0059e7" d="M25 29h2v1h-2zM0 31h5v1h-5zM21 31h1v1h-1zM28 31h1v1h-1zM7 32h1v1h-1zM26 32h1v1h-1zM10 33h1v1h-1zM12 33h2v1h-2zM25 33h1v1h-1zM24 34h1v1h-1zM40 34h1v1h-1zM60 34h1v1h-1zM37 35h1v1h-1zM59 35h1v1h-1zM22 36h1v1h-1zM34 36h1v1h-1zM58 36h1v1h-1zM32 37h1v1h-1zM57 37h1v1h-1zM20 38h1v1h-1zM28 38h1v1h-1zM44 38h1v1h-1zM55 38h1v1h-1zM25 39h1v1h-1zM47 39h2v1h-2zM17 40h1v1h-1zM23 40h1v1h-1zM18 41h1v1h-1zM20 41h1v1h-1z"/>
<path fill="#004cde" d="M27 29h1v1h-1zM23 30h5v1h-5zM22 31h1v1h-1zM27 31h1v1h-1zM5 32h2v1h-2zM18 32h1v1h-1zM25 32h1v1h-1zM8 33h2v1h-2zM14 33h2v1h-2zM24 33h1v1h-1zM39 34h1v1h-1zM61 34h1v1h-1zM38 35h1v1h-1zM40 35h1v1h-1zM35 36h1v1h-1zM41 36h1v1h-1zM21 37h1v1h-1zM33 37h1v1h-1zM42 37h1v1h-1zM19 38h1v1h-1zM43 38h1v1h-1zM56 38h1v1h-1zM17 39h1v1h-1zM46 39h1v1h-1zM53 39h1v1h-1zM16 40h1v1h-1zM51 40h1v1h-1zM17 41h1v1h-1zM21 41h1v1h-1zM19 42h1v1h-1z"/>
<path fill="#003fd5" d="M23 31h4v1h-4zM0 32h5v1h-5zM19 32h1v1h-1zM24 32h1v1h-1zM7 33h1v1h-1zM16 33h1v1h-1zM10 34h2v1h-2zM23 34h1v1h-1zM22 35h1v1h-1zM39 35h1v1h-1zM60 35h1v1h-1zM36 36h2v1h-2zM59 36h1v1h-1zM34 37h1v1h-1zM58 37h1v1h-1zM17 38h2v1h-2zM29 38h1v1h-1zM16 39h1v1h-1zM26 39h1v1h-1zM44 39h2v1h-2zM54 39h1v1h-1zM24 40h1v1h-1zM48 40h3v1h-3zM52 40h1v1h-1zM16 41h1v1h-1zM16 42h3v1h-3z"/>
<path fill="#0032cc" d="M20 32h4v1h-4zM6 33h1v1h-1zM17 33h1v1h-1zM22 33h2v1h-2zM7 34h3v1h-3zM12 34h1v1h-1zM22 34h1v1h-1zM10 35h2v1h-2zM61 35h1v1h-1zM21 36h1v1h-1zM38 36h1v1h-1zM40 36h1v1h-1zM60 36h1v1h-1zM35 37h1v1h-1zM41 37h1v1h-1zM59 37h1v1h-1zM15 38h2v1h-2zM30 38h1v1h-1zM42 38h1v1h-1zM57 38h1v1h-1zM15 39h1v1h-1zM27 39h1v1h-1zM43 39h1v1h-1zM55 39h1v1h-1zM14 40h2v1h-2zM43 40h5v1h-5zM53 40h1v1h-1zM15 41h1v1h-1zM22 41h1v1h-1zM43 41h3v1h-3zM15 42h1v1h-1zM20 42h1v1h-1zM15 43h3v1h-3z"/>
<path fill="#0002a2" d="M0 33h3v1h-3zM4 34h1v1h-1zM19 34h1v1h-1zM5 35h1v1h-1zM16 35h2v1h-2zM5 36h1v1h-1zM17 36h3v1h-3zM6 37h1v1h-1zM7 38h1v1h-1zM36 38h2v1h-2zM9 39h1v1h-1zM31 39h1v1h-1zM60 39h1v1h-1zM9 40h1v1h-1zM28 40h1v1h-1zM58 40h1v1h-1zM10 41h1v1h-1zM25 41h1v1h-1zM55 41h2v1h-2zM11 42h1v1h-1zM23 42h1v1h-1zM54 42h1v1h-1zM12 43h1v1h-1zM41 43h1v1h-1zM53 43h1v1h-1zM13 44h1v1h-1zM20 44h1v1h-1zM41 44h1v1h-1zM50 44h1v1h-1zM16 45h1v1h-1zM41 45h1v1h-1zM47 45h2v1h-2zM43 46h2v1h-2z"/>
<path fill="#000baa" d="M3 33h1v1h-1zM5 34h1v1h-1zM18 34h1v1h-1zM15 35h1v1h-1zM20 35h1v1h-1zM6 36h1v1h-1zM15 36h2v1h-2zM7 37h1v1h-1zM8 38h2v1h-2zM34 38h2v1h-2zM40 38h1v1h-1zM61 38h1v1h-1zM30 39h1v1h-1zM41 39h1v1h-1zM59 39h1v1h-1zM10 40h1v1h-1zM27 40h1v1h-1zM41 40h1v1h-1zM56 40h2v1h-2zM41 41h1v1h-1zM54 41h1v1h-1zM12 42h1v1h-1zM41 42h1v1h-1zM53 42h1v1h-1zM21 43h1v1h-1zM52 43h1v1h-1zM14 44h1v1h-1zM18 44h2v1h-2zM42 44h1v1h-1zM48 44h2v1h-2zM15 45h1v1h-1zM42 45h5v1h-5z"/>
<path fill="#0015b2" d="M4 33h1v1h-1zM19 33h1v1h-1zM16 34h2v1h-2zM20 34h1v1h-1zM6 35h1v1h-1zM14 35h1v1h-1zM14 36h1v1h-1zM20 36h1v1h-1zM8 37h1v1h-1zM15 37h5v1h-5zM39 37h1v1h-1zM61 37h1v1h-1zM10 38h1v1h-1zM33 38h1v1h-1zM60 38h1v1h-1zM10 39h1v1h-1zM29 39h1v1h-1zM58 39h1v1h-1zM11 40h1v1h-1zM26 40h1v1h-1zM55 40h1v1h-1zM11 41h1v1h-1zM24 41h1v1h-1zM53 41h1v1h-1zM22 42h1v1h-1zM42 42h1v1h-1zM52 42h1v1h-1zM13 43h1v1h-1zM42 43h1v1h-1zM49 43h3v1h-3zM17 44h1v1h-1zM45 44h3v1h-3z"/>
<path fill="#001ebb" d="M5 33h1v1h-1zM18 33h1v1h-1zM20 33h1v1h-1zM6 34h1v1h-1zM15 34h1v1h-1zM21 34h1v1h-1zM13 35h1v1h-1zM7 36h2v1h-2zM13 36h1v1h-1zM9 37h2v1h-2zM13 37h2v1h-2zM37 37h2v1h-2zM60 37h1v1h-1zM11 38h1v1h-1zM32 38h1v1h-1zM41 38h1v1h-1zM59 38h1v1h-1zM11 39h2v1h-2zM28 39h1v1h-1zM42 39h1v1h-1zM57 39h1v1h-1zM12 40h1v1h-1zM42 40h1v1h-1zM54 40h1v1h-1zM12 41h1v1h-1zM23 41h1v1h-1zM42 41h1v1h-1zM52 41h1v1h-1zM13 42h1v1h-1zM21 42h1v1h-1zM50 42h2v1h-2zM14 43h1v1h-1zM20 43h1v1h-1zM43 43h1v1h-1zM45 43h4v1h-4zM15 44h2v1h-2zM43 44h2v1h-2z"/>
<path fill="#0027c3" d="M21 33h1v1h-1zM13 34h2v1h-2zM7 35h3v1h-3zM12 35h1v1h-1zM21 35h1v1h-1zM9 36h4v1h-4zM39 36h1v1h-1zM61 36h1v1h-1zM11 37h2v1h-2zM20 37h1v1h-1zM36 37h1v1h-1zM40 37h1v1h-1zM12 38h3v1h-3zM31 38h1v1h-1zM58 38h1v1h-1zM13 39h2v1h-2zM56 39h1v1h-1zM13 40h1v1h-1zM25 40h1v1h-1zM13 41h2v1h-2zM46 41h6v1h-6zM14 42h1v1h-1zM43 42h7v1h-7zM18 43h2v1h-2zM44 43h1v1h-1z"/>
<path fill="#00008a" d="M0 34h1v1h-1zM0 35h4v1h-4zM0 36h4v1h-4zM0 37h4v1h-4zM4 38h1v1h-1zM4 39h3v1h-3zM35 39h3v1h-3zM5 40h3v1h-3zM31 40h8v1h-8zM61 40h1v1h-1zM6 41h2v1h-2zM28 41h12v1h-12zM59 41h2v1h-2zM7 42h2v1h-2zM27 42h7v1h-7zM37 42h3v1h-3zM58 42h2v1h-2zM8 43h2v1h-2zM23 43h8v1h-8zM38 43h2v1h-2zM55 43h4v1h-4zM10 44h2v1h-2zM23 44h3v1h-3zM37 44h2v1h-2zM54 44h2v1h-2zM12 45h1v1h-1zM21 45h2v1h-2zM37 45h1v1h-1zM51 45h3v1h-3zM13 46h2v1h-2zM16 46h2v1h-2zM37 46h1v1h-1zM49 46h2v1h-2zM15 47h2v1h-2zM38 47h1v1h-1zM46 47h3v1h-3z"/>
<path fill="#000092" d="M1 34h3v1h-3zM4 35h1v1h-1zM4 36h1v1h-1zM4 37h1v1h-1zM5 38h1v1h-1zM7 39h1v1h-1zM34 39h1v1h-1zM38 39h2v1h-2zM8 40h1v1h-1zM30 40h1v1h-1zM39 40h1v1h-1zM60 40h1v1h-1zM8 41h1v1h-1zM27 41h1v1h-1zM58 41h1v1h-1zM9 42h1v1h-1zM25 42h2v1h-2zM56 42h2v1h-2zM10 43h2v1h-2zM40 43h1v1h-1zM54 43h1v1h-1zM12 44h1v1h-1zM22 44h1v1h-1zM39 44h1v1h-1zM52 44h2v1h-2zM13 45h1v1h-1zM19 45h2v1h-2zM38 45h2v1h-2zM50 45h1v1h-1zM15 46h1v1h-1zM38 46h2v1h-2zM48 46h1v1h-1zM39 47h7v1h-7z"/>
<path fill="#00009a" d="M18 35h2v1h-2zM5 37h1v1h-1zM6 38h1v1h-1zM38 38h2v1h-2zM8 39h1v1h-1zM32 39h2v1h-2zM40 39h1v1h-1zM61 39h1v1h-1zM29 40h1v1h-1zM40 40h1v1h-1zM59 40h1v1h-1zM9 41h1v1h-1zM26 41h1v1h-1zM40 41h1v1h-1zM57 41h1v1h-1zM10 42h1v1h-1zM24 42h1v1h-1zM40 42h1v1h-1zM55 42h1v1h-1zM22 43h1v1h-1zM21 44h1v1h-1zM40 44h1v1h-1zM51 44h1v1h-1zM14 45h1v1h-1zM17 45h2v1h-2zM40 45h1v1h-1zM49 45h1v1h-1zM40 46h3v1h-3zM45 46h3v1h-3z"/>
<path fill="#000082" d="M0 38h4v1h-4zM0 39h4v1h-4zM0 40h5v1h-5zM0 41h6v1h-6zM61 41h1v1h-1zM0 42h7v1h-7zM34 42h3v1h-3zM60 42h2v1h-2zM0 43h8v1h-8zM31 43h7v1h-7zM59 43h3v1h-3zM0 44h10v1h-10zM26 44h11v1h-11zM56 44h6v1h-6zM4 45h8v1h-8zM23 45h14v1h-14zM54 45h8v1h-8zM6 46h7v1h-7zM18 46h16v1h-16zM36 46h1v1h-1zM51 46h10v1h-10zM12 47h3v1h-3zM17 47h7v1h-7zM36 47h2v1h-2zM49 47h2v1h-2z"/>
<path fill="#00007a" d="M0 45h4v1h-4zM0 46h6v1h-6zM34 46h2v1h-2zM61 46h1v1h-1zM0 47h12v1h-12zM24 47h12v1h-12zM51 47h11v1h-11z"/>
</g>
</g>
<rect x="679" y="41" width="199" height="1" fill="#000"/>
<rect x="679" y="273" width="199" height="1" fill="#000"/>
<rect x="679" y="41" width="1" height="233" fill="#000"/>
<rect x="877" y="41" width="1" height="233" fill="#000"/>
<rect x="676" y="73" width="3" height="1" fill="#000"/>
<rect x="878" y="73" width="3" height="1" fill="#000"/>
<text x="673" y="77.3" font-size="12" text-anchor="end">44</text>
<rect x="655" y="73" width="4" height="1" fill="#000"/>
<rect x="676" y="111" width="3" height="1" fill="#000"/>
<rect x="878" y="111" width="3" height="1" fill="#000"/>
<text x="673" y="115.3" font-size="12" text-anchor="end">46</text>
<rect x="655" y="111" width="4" height="1" fill="#000"/>
<rect x="676" y="150" width="3" height="1" fill="#000"/>
<rect x="878" y="150" width="3" height="1" fill="#000"/>
<text x="673" y="154.3" font-size="12" text-anchor="end">48</text>
<rect x="655" y="150" width="4" height="1" fill="#000"/>
<rect x="676" y="189" width="3" height="1" fill="#000"/>
<rect x="878" y="189" width="3" height="1" fill="#000"/>
<text x="673" y="193.3" font-size="12" text-anchor="end">50</text>
<rect x="655" y="189" width="4" height="1" fill="#000"/>
<rect x="676" y="227" width="3" height="1" fill="#000"/>
<rect x="878" y="227" width="3" height="1" fill="#000"/>
<text x="673" y="231.3" font-size="12" text-anchor="end">52</text>
<rect x="655" y="227" width="4" height="1" fill="#000"/>
<rect x="676" y="266" width="3" height="1" fill="#000"/>
<rect x="878" y="266" width="3" height="1" fill="#000"/>
<text x="673" y="270.3" font-size="12" text-anchor="end">54</text>
<rect x="655" y="266" width="4" height="1" fill="#000"/>
<rect x="729" y="38" width="1" height="3" fill="#000"/>
<rect x="729" y="274" width="1" height="3" fill="#000"/>
<text x="729.5" y="289.7" font-size="12" text-anchor="middle">120</text>
<rect x="793" y="38" width="1" height="3" fill="#000"/>
<rect x="793" y="274" width="1" height="3" fill="#000"/>
<text x="793.5" y="289.7" font-size="12" text-anchor="middle">125</text>
<rect x="857" y="38" width="1" height="3" fill="#000"/>
<rect x="857" y="274" width="1" height="3" fill="#000"/>
<text x="857.5" y="289.7" font-size="12" text-anchor="middle">130</text>
<circle cx="778.5" cy="157.5" r="5.3" fill="#00bb44" stroke="#000" stroke-width="1.1"/>
<text x="693" y="32.2" font-size="12" text-anchor="start" textLength="167.5" lengthAdjust="spacing">AMSR-E SST: 8.37 Argo: 9.02</text>
</g>
<g>
<clipPath id="cm325"><rect x="679" y="325" width="197" height="233"/></clipPath>
<g clip-path="url(#cm325)">
<g transform="translate(679.5,325.5) scale(3.2,4.82)" shape-rendering="crispEdges">
<path fill="#8af600" d="M0 0h1v1h-1zM9 0h2v1h-2zM20 0h3v1h-3zM33 0h2v1h-2zM40 0h1v1h-1zM47 0h5v1h-5zM57 0h2v1h-2zM0 1h1v1h-1zM9 1h2v1h-2zM21 1h2v1h-2zM32 1h2v1h-2zM40 1h2v1h-2zM46 1h5v1h-5zM0 2h3v1h-3zM8 2h2v1h-2zM33 2h1v1h-1zM40 2h1v1h-1zM47 2h1v1h-1zM4 3h4v1h-4zM34 3h7v1h-7zM58 5h1v1h-1zM56 6h4v1h-4zM21 7h1v1h-1zM56 7h1v1h-1zM59 7h1v1h-1zM21 8h2v1h-2zM56 8h2v1h-2zM59 8h1v1h-1zM21 9h2v1h-2zM57 9h3v1h-3zM22 10h1v1h-1zM4 11h7v1h-7zM2 12h1v1h-1zM12 12h1v1h-1zM24 12h2v1h-2zM1 13h1v1h-1zM12 13h1v1h-1zM24 13h3v1h-3zM1 14h1v1h-1zM24 14h3v1h-3zM2 15h1v1h-1zM12 15h1v1h-1zM24 15h3v1h-3zM3 16h1v1h-1zM11 16h1v1h-1zM23 16h4v1h-4zM4 17h3v1h-3zM9 17h2v1h-2zM22 17h1v1h-1zM26 17h1v1h-1zM39 17h4v1h-4zM58 17h4v1h-4zM19 18h1v1h-1zM27 18h1v1h-1zM43 18h2v1h-2zM57 18h1v1h-1zM15 19h1v1h-1zM38 19h1v1h-1zM45 19h2v1h-2zM57 19h1v1h-1zM14 20h1v1h-1zM38 20h1v1h-1zM49 20h3v1h-3zM55 20h2v1h-2zM38 21h1v1h-1zM12 22h1v1h-1zM28 22h1v1h-1zM38 22h1v1h-1zM11 23h1v1h-1zM11 24h1v1h-1zM58 24h2v1h-2zM11 25h1v1h-1zM25 25h1v1h-1zM40 25h1v1h-1zM51 25h2v1h-2zM11 26h1v1h-1zM48 26h1v1h-1zM10 27h2v1h-2zM39 27h1v1h-1zM11 28h1v1h-1zM39 28h1v1h-1zM11 29h1v1h-1zM21 29h1v1h-1zM40 29h1v1h-1zM45 29h1v1h-1zM13 30h2v1h-2zM19 30h1v1h-1zM41 30h1v1h-1zM44 30h1v1h-1zM31 32h1v1h-1zM35 32h1v1h-1zM48 32h1v1h-1zM54 32h1v1h-1zM47 33h1v1h-1zM56 33h1v1h-1zM28 34h1v1h-1zM37 34h1v1h-1zM27 35h1v1h-1zM46 35h1v1h-1zM5 36h4v1h-4zM35 36h1v1h-1zM45 36h1v1h-1zM57 36h1v1h-1zM4 37h1v1h-1zM10 37h1v1h-1zM33 37h1v1h-1zM44 37h1v1h-1zM4 38h1v1h-1zM43 38h1v1h-1zM56 38h1v1h-1zM5 39h1v1h-1zM13 39h1v1h-1zM18 39h1v1h-1zM29 39h1v1h-1zM54 39h2v1h-2zM7 40h1v1h-1zM15 40h2v1h-2zM53 40h2v1h-2zM26 41h1v1h-1zM43 41h1v1h-1zM53 41h2v1h-2zM25 42h1v1h-1zM43 42h1v1h-1zM52 42h2v1h-2zM12 43h1v1h-1zM24 43h1v1h-1zM43 43h1v1h-1zM52 43h1v1h-1zM23 44h1v1h-1zM0 47h3v1h-3zM21 47h1v1h-1zM26 47h2v1h-2zM29 47h1v1h-1z"/>
<path fill="#a4f800" d="M1 0h8v1h-8zM35 0h5v1h-5zM1 1h3v1h-3zM7 1h2v1h-2zM34 1h2v1h-2zM38 1h2v1h-2zM3 2h5v1h-5zM34 2h6v1h-6zM57 7h2v1h-2zM58 8h1v1h-1zM3 12h2v1h-2zM11 12h1v1h-1zM2 13h1v1h-1zM2 14h1v1h-1zM12 14h1v1h-1zM4 16h1v1h-1zM7 17h2v1h-2zM23 17h1v1h-1zM25 17h1v1h-1zM20 18h1v1h-1zM39 18h1v1h-1zM42 18h1v1h-1zM58 18h4v1h-4zM16 19h1v1h-1zM27 19h1v1h-1zM44 19h1v1h-1zM58 19h4v1h-4zM27 20h1v1h-1zM46 20h3v1h-3zM57 20h5v1h-5zM13 21h1v1h-1zM53 21h5v1h-5zM61 21h1v1h-1zM12 23h1v1h-1zM38 23h1v1h-1zM12 24h1v1h-1zM39 24h1v1h-1zM56 24h2v1h-2zM12 25h1v1h-1zM49 25h2v1h-2zM12 26h1v1h-1zM24 26h1v1h-1zM40 26h1v1h-1zM12 27h1v1h-1zM23 27h1v1h-1zM47 27h1v1h-1zM12 28h1v1h-1zM22 28h1v1h-1zM40 28h1v1h-1zM46 28h1v1h-1zM12 29h2v1h-2zM20 29h1v1h-1zM15 30h4v1h-4zM42 30h2v1h-2zM32 32h3v1h-3zM49 32h1v1h-1zM53 32h1v1h-1zM30 33h1v1h-1zM36 33h1v1h-1zM36 35h1v1h-1zM26 36h1v1h-1zM46 36h1v1h-1zM5 37h1v1h-1zM9 37h1v1h-1zM22 37h1v1h-1zM32 37h1v1h-1zM45 37h1v1h-1zM5 38h1v1h-1zM11 38h1v1h-1zM30 38h1v1h-1zM44 38h2v1h-2zM6 39h1v1h-1zM12 39h1v1h-1zM28 39h1v1h-1zM43 39h3v1h-3zM52 39h2v1h-2zM8 40h1v1h-1zM14 40h1v1h-1zM17 40h1v1h-1zM27 40h1v1h-1zM43 40h2v1h-2zM48 40h5v1h-5zM9 41h1v1h-1zM44 41h1v1h-1zM49 41h4v1h-4zM11 42h1v1h-1zM44 42h1v1h-1zM50 42h2v1h-2zM44 43h1v1h-1zM51 43h1v1h-1zM13 44h1v1h-1zM44 44h1v1h-1zM51 44h1v1h-1zM13 45h1v1h-1zM22 45h1v1h-1zM44 45h1v1h-1zM51 45h1v1h-1zM13 46h1v1h-1zM21 46h1v1h-1zM44 46h1v1h-1zM51 46h1v1h-1zM13 47h1v1h-1zM28 47h1v1h-1zM44 47h1v1h-1zM51 47h1v1h-1z"/>
<path fill="#66f000" d="M11 0h1v1h-1zM19 0h1v1h-1zM23 0h2v1h-2zM32 0h1v1h-1zM41 0h2v1h-2zM45 0h2v1h-2zM52 0h5v1h-5zM59 0h1v1h-1zM11 1h1v1h-1zM19 1h2v1h-2zM23 1h1v1h-1zM31 1h1v1h-1zM42 1h4v1h-4zM51 1h2v1h-2zM56 1h4v1h-4zM10 2h2v1h-2zM19 2h5v1h-5zM32 2h1v1h-1zM41 2h6v1h-6zM48 2h4v1h-4zM0 3h4v1h-4zM8 3h3v1h-3zM20 3h3v1h-3zM32 3h2v1h-2zM41 3h7v1h-7zM20 4h3v1h-3zM35 4h8v1h-8zM56 4h4v1h-4zM20 5h3v1h-3zM39 5h3v1h-3zM55 5h3v1h-3zM59 5h1v1h-1zM13 6h2v1h-2zM20 6h3v1h-3zM55 6h1v1h-1zM13 7h2v1h-2zM20 7h1v1h-1zM22 7h1v1h-1zM41 7h1v1h-1zM55 7h1v1h-1zM60 7h1v1h-1zM20 8h1v1h-1zM23 8h1v1h-1zM40 8h2v1h-2zM55 8h1v1h-1zM60 8h1v1h-1zM20 9h1v1h-1zM23 9h1v1h-1zM39 9h3v1h-3zM56 9h1v1h-1zM60 9h1v1h-1zM20 10h2v1h-2zM23 10h2v1h-2zM39 10h3v1h-3zM57 10h3v1h-3zM2 11h2v1h-2zM11 11h2v1h-2zM22 11h4v1h-4zM39 11h3v1h-3zM1 12h1v1h-1zM23 12h1v1h-1zM26 12h2v1h-2zM23 13h1v1h-1zM27 13h1v1h-1zM23 14h1v1h-1zM27 14h1v1h-1zM40 14h2v1h-2zM1 15h1v1h-1zM23 15h1v1h-1zM27 15h1v1h-1zM40 15h3v1h-3zM59 15h3v1h-3zM2 16h1v1h-1zM12 16h1v1h-1zM22 16h1v1h-1zM27 16h1v1h-1zM39 16h5v1h-5zM57 16h5v1h-5zM3 17h1v1h-1zM11 17h1v1h-1zM21 17h1v1h-1zM27 17h1v1h-1zM38 17h1v1h-1zM43 17h2v1h-2zM57 17h1v1h-1zM18 18h1v1h-1zM28 18h1v1h-1zM38 18h1v1h-1zM45 18h1v1h-1zM56 18h1v1h-1zM14 19h1v1h-1zM28 19h1v1h-1zM47 19h1v1h-1zM56 19h1v1h-1zM13 20h1v1h-1zM28 20h1v1h-1zM52 20h3v1h-3zM11 21h2v1h-2zM28 21h1v1h-1zM11 22h1v1h-1zM10 23h1v1h-1zM28 23h1v1h-1zM10 24h1v1h-1zM27 24h1v1h-1zM60 24h2v1h-2zM10 25h1v1h-1zM53 25h1v1h-1zM10 26h1v1h-1zM25 26h1v1h-1zM39 26h1v1h-1zM49 26h1v1h-1zM24 27h1v1h-1zM48 27h1v1h-1zM10 28h1v1h-1zM47 28h1v1h-1zM10 29h1v1h-1zM39 29h1v1h-1zM46 29h1v1h-1zM11 30h2v1h-2zM20 30h1v1h-1zM40 30h1v1h-1zM45 30h1v1h-1zM32 31h3v1h-3zM43 31h1v1h-1zM30 32h1v1h-1zM36 32h1v1h-1zM47 32h1v1h-1zM29 33h1v1h-1zM37 33h1v1h-1zM46 34h1v1h-1zM57 34h1v1h-1zM37 35h1v1h-1zM57 35h1v1h-1zM4 36h1v1h-1zM9 36h1v1h-1zM25 36h1v1h-1zM36 36h1v1h-1zM44 36h1v1h-1zM3 37h1v1h-1zM11 37h1v1h-1zM21 37h1v1h-1zM34 37h1v1h-1zM42 37h2v1h-2zM57 37h1v1h-1zM12 38h1v1h-1zM19 38h1v1h-1zM31 38h1v1h-1zM42 38h1v1h-1zM57 38h1v1h-1zM42 39h1v1h-1zM56 39h1v1h-1zM6 40h1v1h-1zM28 40h1v1h-1zM42 40h1v1h-1zM55 40h1v1h-1zM8 41h1v1h-1zM42 41h1v1h-1zM55 41h1v1h-1zM10 42h1v1h-1zM42 42h1v1h-1zM54 42h1v1h-1zM42 43h1v1h-1zM53 43h1v1h-1zM12 44h1v1h-1zM24 44h1v1h-1zM43 44h1v1h-1zM52 44h1v1h-1zM12 45h1v1h-1zM23 45h1v1h-1zM43 45h1v1h-1zM52 45h1v1h-1zM12 46h1v1h-1zM22 46h1v1h-1zM27 46h3v1h-3zM43 46h1v1h-1zM52 46h1v1h-1zM3 47h1v1h-1zM12 47h1v1h-1zM22 47h1v1h-1zM25 47h1v1h-1zM30 47h1v1h-1zM43 47h1v1h-1zM52 47h1v1h-1z"/>
<path fill="#3ce900" d="M12 0h2v1h-2zM18 0h1v1h-1zM25 0h1v1h-1zM31 0h1v1h-1zM43 0h2v1h-2zM60 0h2v1h-2zM12 1h2v1h-2zM17 1h2v1h-2zM24 1h2v1h-2zM53 1h3v1h-3zM60 1h2v1h-2zM12 2h2v1h-2zM17 2h2v1h-2zM24 2h1v1h-1zM31 2h1v1h-1zM52 2h9v1h-9zM11 3h4v1h-4zM17 3h3v1h-3zM23 3h2v1h-2zM31 3h1v1h-1zM48 3h13v1h-13zM0 4h17v1h-17zM18 4h2v1h-2zM23 4h1v1h-1zM32 4h3v1h-3zM43 4h4v1h-4zM54 4h2v1h-2zM60 4h1v1h-1zM10 5h7v1h-7zM19 5h1v1h-1zM23 5h1v1h-1zM36 5h3v1h-3zM42 5h3v1h-3zM54 5h1v1h-1zM60 5h1v1h-1zM11 6h2v1h-2zM15 6h2v1h-2zM19 6h1v1h-1zM23 6h1v1h-1zM38 6h7v1h-7zM54 6h1v1h-1zM60 6h2v1h-2zM11 7h2v1h-2zM15 7h2v1h-2zM18 7h2v1h-2zM23 7h1v1h-1zM39 7h2v1h-2zM42 7h3v1h-3zM54 7h1v1h-1zM61 7h1v1h-1zM12 8h4v1h-4zM19 8h1v1h-1zM39 8h1v1h-1zM42 8h2v1h-2zM61 8h1v1h-1zM12 9h3v1h-3zM19 9h1v1h-1zM24 9h1v1h-1zM38 9h1v1h-1zM42 9h2v1h-2zM55 9h1v1h-1zM61 9h1v1h-1zM2 10h12v1h-12zM25 10h1v1h-1zM38 10h1v1h-1zM42 10h1v1h-1zM56 10h1v1h-1zM60 10h2v1h-2zM0 11h2v1h-2zM13 11h1v1h-1zM21 11h1v1h-1zM26 11h2v1h-2zM38 11h1v1h-1zM42 11h2v1h-2zM58 11h2v1h-2zM0 12h1v1h-1zM13 12h1v1h-1zM22 12h1v1h-1zM28 12h1v1h-1zM38 12h6v1h-6zM0 13h1v1h-1zM13 13h1v1h-1zM22 13h1v1h-1zM28 13h1v1h-1zM38 13h6v1h-6zM60 13h2v1h-2zM0 14h1v1h-1zM13 14h1v1h-1zM22 14h1v1h-1zM28 14h1v1h-1zM38 14h2v1h-2zM42 14h3v1h-3zM58 14h4v1h-4zM22 15h1v1h-1zM28 15h1v1h-1zM38 15h2v1h-2zM43 15h2v1h-2zM57 15h2v1h-2zM1 16h1v1h-1zM28 16h1v1h-1zM37 16h2v1h-2zM44 16h1v1h-1zM56 16h1v1h-1zM2 17h1v1h-1zM12 17h1v1h-1zM20 17h1v1h-1zM28 17h1v1h-1zM37 17h1v1h-1zM45 17h1v1h-1zM56 17h1v1h-1zM4 18h8v1h-8zM17 18h1v1h-1zM37 18h1v1h-1zM46 18h2v1h-2zM55 18h1v1h-1zM12 19h2v1h-2zM48 19h2v1h-2zM54 19h2v1h-2zM11 20h2v1h-2zM10 21h1v1h-1zM10 22h1v1h-1zM9 23h1v1h-1zM9 24h1v1h-1zM38 24h1v1h-1zM9 25h1v1h-1zM26 25h1v1h-1zM39 25h1v1h-1zM54 25h1v1h-1zM9 26h1v1h-1zM9 27h1v1h-1zM25 27h1v1h-1zM38 27h1v1h-1zM9 28h1v1h-1zM23 28h1v1h-1zM38 28h1v1h-1zM22 29h1v1h-1zM46 30h1v1h-1zM12 31h7v1h-7zM31 31h1v1h-1zM35 31h1v1h-1zM41 31h2v1h-2zM44 31h2v1h-2zM37 32h1v1h-1zM55 32h1v1h-1zM38 33h1v1h-1zM46 33h1v1h-1zM38 34h1v1h-1zM6 35h2v1h-2zM26 35h1v1h-1zM44 35h2v1h-2zM3 36h1v1h-1zM10 36h1v1h-1zM37 36h1v1h-1zM42 36h2v1h-2zM2 37h1v1h-1zM35 37h1v1h-1zM3 38h1v1h-1zM13 38h1v1h-1zM32 38h1v1h-1zM41 38h1v1h-1zM4 39h1v1h-1zM14 39h1v1h-1zM30 39h1v1h-1zM41 39h1v1h-1zM57 39h1v1h-1zM5 40h1v1h-1zM41 40h1v1h-1zM56 40h2v1h-2zM27 41h1v1h-1zM41 41h1v1h-1zM56 41h1v1h-1zM9 42h1v1h-1zM26 42h1v1h-1zM41 42h1v1h-1zM55 42h2v1h-2zM11 43h1v1h-1zM25 43h1v1h-1zM54 43h1v1h-1zM42 44h1v1h-1zM53 44h1v1h-1zM24 45h1v1h-1zM42 45h1v1h-1zM23 46h4v1h-4zM30 46h1v1h-1zM42 46h1v1h-1zM4 47h1v1h-1zM23 47h2v1h-2zM31 47h1v1h-1z"/>
<path fill="#12e200" d="M14 0h4v1h-4zM26 0h1v1h-1zM29 0h2v1h-2zM14 1h3v1h-3zM26 1h1v1h-1zM30 1h1v1h-1zM14 2h3v1h-3zM25 2h1v1h-1zM30 2h1v1h-1zM61 2h1v1h-1zM15 3h2v1h-2zM25 3h1v1h-1zM30 3h1v1h-1zM61 3h1v1h-1zM17 4h1v1h-1zM24 4h1v1h-1zM30 4h2v1h-2zM47 4h7v1h-7zM61 4h1v1h-1zM0 5h3v1h-3zM4 5h6v1h-6zM17 5h2v1h-2zM24 5h1v1h-1zM32 5h4v1h-4zM45 5h2v1h-2zM52 5h2v1h-2zM61 5h1v1h-1zM0 6h1v1h-1zM9 6h2v1h-2zM17 6h2v1h-2zM24 6h1v1h-1zM37 6h1v1h-1zM45 6h1v1h-1zM53 6h1v1h-1zM0 7h1v1h-1zM10 7h1v1h-1zM17 7h1v1h-1zM24 7h1v1h-1zM38 7h1v1h-1zM45 7h1v1h-1zM53 7h1v1h-1zM0 8h1v1h-1zM10 8h2v1h-2zM16 8h3v1h-3zM24 8h1v1h-1zM38 8h1v1h-1zM44 8h1v1h-1zM54 8h1v1h-1zM0 9h2v1h-2zM5 9h7v1h-7zM15 9h2v1h-2zM18 9h1v1h-1zM25 9h1v1h-1zM44 9h1v1h-1zM54 9h1v1h-1zM0 10h2v1h-2zM14 10h1v1h-1zM19 10h1v1h-1zM26 10h2v1h-2zM37 10h1v1h-1zM43 10h2v1h-2zM55 10h1v1h-1zM14 11h1v1h-1zM20 11h1v1h-1zM28 11h1v1h-1zM37 11h1v1h-1zM44 11h1v1h-1zM54 11h4v1h-4zM60 11h2v1h-2zM21 12h1v1h-1zM29 12h1v1h-1zM37 12h1v1h-1zM44 12h2v1h-2zM54 12h8v1h-8zM29 13h2v1h-2zM37 13h1v1h-1zM44 13h2v1h-2zM54 13h6v1h-6zM29 14h3v1h-3zM36 14h2v1h-2zM45 14h1v1h-1zM54 14h4v1h-4zM0 15h1v1h-1zM13 15h1v1h-1zM29 15h2v1h-2zM36 15h2v1h-2zM45 15h1v1h-1zM54 15h3v1h-3zM0 16h1v1h-1zM21 16h1v1h-1zM29 16h1v1h-1zM36 16h1v1h-1zM45 16h2v1h-2zM54 16h2v1h-2zM1 17h1v1h-1zM29 17h1v1h-1zM46 17h3v1h-3zM54 17h2v1h-2zM2 18h2v1h-2zM12 18h5v1h-5zM29 18h1v1h-1zM48 18h2v1h-2zM54 18h1v1h-1zM6 19h6v1h-6zM29 19h1v1h-1zM37 19h1v1h-1zM50 19h4v1h-4zM9 20h2v1h-2zM29 20h1v1h-1zM8 21h2v1h-2zM29 21h1v1h-1zM8 22h2v1h-2zM29 22h1v1h-1zM8 23h1v1h-1zM29 23h1v1h-1zM8 24h1v1h-1zM28 24h1v1h-1zM8 25h1v1h-1zM55 25h1v1h-1zM8 26h1v1h-1zM26 26h1v1h-1zM38 26h1v1h-1zM8 27h1v1h-1zM8 28h1v1h-1zM48 28h1v1h-1zM9 29h1v1h-1zM38 29h1v1h-1zM47 29h1v1h-1zM10 30h1v1h-1zM21 30h1v1h-1zM32 30h4v1h-4zM39 30h1v1h-1zM47 30h1v1h-1zM11 31h1v1h-1zM19 31h1v1h-1zM36 31h2v1h-2zM39 31h2v1h-2zM46 31h5v1h-5zM13 32h2v1h-2zM38 32h1v1h-1zM43 32h4v1h-4zM45 33h1v1h-1zM57 33h1v1h-1zM27 34h1v1h-1zM45 34h1v1h-1zM4 35h2v1h-2zM8 35h2v1h-2zM38 35h1v1h-1zM43 35h1v1h-1zM2 36h1v1h-1zM24 36h1v1h-1zM41 36h1v1h-1zM1 37h1v1h-1zM12 37h1v1h-1zM20 37h1v1h-1zM36 37h1v1h-1zM41 37h1v1h-1zM58 37h1v1h-1zM2 38h1v1h-1zM33 38h2v1h-2zM40 38h1v1h-1zM58 38h1v1h-1zM3 39h1v1h-1zM15 39h3v1h-3zM58 39h1v1h-1zM4 40h1v1h-1zM29 40h1v1h-1zM58 40h1v1h-1zM7 41h1v1h-1zM57 41h1v1h-1zM27 42h1v1h-1zM57 42h1v1h-1zM26 43h2v1h-2zM41 43h1v1h-1zM55 43h2v1h-2zM25 44h4v1h-4zM41 44h1v1h-1zM54 44h1v1h-1zM25 45h5v1h-5zM41 45h1v1h-1zM53 45h1v1h-1zM0 46h2v1h-2zM11 46h1v1h-1zM31 46h1v1h-1zM41 46h1v1h-1zM53 46h1v1h-1zM11 47h1v1h-1zM41 47h2v1h-2zM53 47h1v1h-1z"/>
<path fill="#07d911" d="M27 0h2v1h-2zM27 1h3v1h-3zM26 2h4v1h-4zM26 3h4v1h-4zM25 4h5v1h-5zM3 5h1v1h-1zM25 5h7v1h-7zM47 5h5v1h-5zM1 6h8v1h-8zM25 6h12v1h-12zM46 6h2v1h-2zM51 6h2v1h-2zM1 7h9v1h-9zM25 7h5v1h-5zM36 7h2v1h-2zM46 7h1v1h-1zM52 7h1v1h-1zM1 8h9v1h-9zM25 8h4v1h-4zM37 8h1v1h-1zM45 8h1v1h-1zM53 8h1v1h-1zM2 9h3v1h-3zM17 9h1v1h-1zM26 9h3v1h-3zM37 9h1v1h-1zM45 9h1v1h-1zM53 9h1v1h-1zM15 10h4v1h-4zM28 10h2v1h-2zM45 10h1v1h-1zM53 10h2v1h-2zM15 11h1v1h-1zM19 11h1v1h-1zM29 11h2v1h-2zM36 11h1v1h-1zM45 11h1v1h-1zM53 11h1v1h-1zM14 12h1v1h-1zM30 12h2v1h-2zM35 12h2v1h-2zM46 12h1v1h-1zM52 12h2v1h-2zM14 13h1v1h-1zM21 13h1v1h-1zM31 13h6v1h-6zM46 13h2v1h-2zM51 13h3v1h-3zM21 14h1v1h-1zM32 14h4v1h-4zM46 14h8v1h-8zM21 15h1v1h-1zM31 15h5v1h-5zM46 15h8v1h-8zM13 16h1v1h-1zM30 16h6v1h-6zM47 16h7v1h-7zM0 17h1v1h-1zM13 17h1v1h-1zM19 17h1v1h-1zM30 17h2v1h-2zM35 17h2v1h-2zM49 17h5v1h-5zM0 18h2v1h-2zM30 18h1v1h-1zM50 18h4v1h-4zM1 19h5v1h-5zM3 20h6v1h-6zM37 20h1v1h-1zM4 21h4v1h-4zM5 22h3v1h-3zM37 22h1v1h-1zM6 23h2v1h-2zM37 23h1v1h-1zM6 24h2v1h-2zM6 25h2v1h-2zM27 25h1v1h-1zM38 25h1v1h-1zM6 26h2v1h-2zM50 26h1v1h-1zM0 27h3v1h-3zM6 27h2v1h-2zM26 27h1v1h-1zM37 27h1v1h-1zM49 27h1v1h-1zM0 28h3v1h-3zM7 28h1v1h-1zM24 28h1v1h-1zM37 28h1v1h-1zM0 29h3v1h-3zM8 29h1v1h-1zM32 29h6v1h-6zM48 29h1v1h-1zM9 30h1v1h-1zM31 30h1v1h-1zM36 30h3v1h-3zM48 30h1v1h-1zM10 31h1v1h-1zM20 31h1v1h-1zM30 31h1v1h-1zM38 31h1v1h-1zM51 31h1v1h-1zM11 32h2v1h-2zM15 32h2v1h-2zM29 32h1v1h-1zM39 32h4v1h-4zM56 32h1v1h-1zM12 33h3v1h-3zM28 33h1v1h-1zM39 33h2v1h-2zM42 33h3v1h-3zM12 34h2v1h-2zM39 34h2v1h-2zM42 34h3v1h-3zM61 34h1v1h-1zM2 35h2v1h-2zM10 35h2v1h-2zM39 35h4v1h-4zM58 35h1v1h-1zM61 35h1v1h-1zM0 36h2v1h-2zM11 36h2v1h-2zM38 36h3v1h-3zM58 36h1v1h-1zM61 36h1v1h-1zM0 37h1v1h-1zM13 37h1v1h-1zM19 37h1v1h-1zM37 37h4v1h-4zM60 37h2v1h-2zM0 38h2v1h-2zM14 38h1v1h-1zM18 38h1v1h-1zM35 38h1v1h-1zM59 38h3v1h-3zM0 39h3v1h-3zM31 39h1v1h-1zM40 39h1v1h-1zM59 39h3v1h-3zM3 40h1v1h-1zM40 40h1v1h-1zM59 40h3v1h-3zM6 41h1v1h-1zM28 41h1v1h-1zM40 41h1v1h-1zM58 41h4v1h-4zM8 42h1v1h-1zM40 42h1v1h-1zM58 42h4v1h-4zM10 43h1v1h-1zM28 43h1v1h-1zM40 43h1v1h-1zM57 43h3v1h-3zM11 44h1v1h-1zM29 44h1v1h-1zM40 44h1v1h-1zM55 44h1v1h-1zM11 45h1v1h-1zM30 45h1v1h-1zM39 45h2v1h-2zM2 46h1v1h-1zM32 46h1v1h-1zM39 46h2v1h-2zM5 47h1v1h-1zM32 47h1v1h-1zM38 47h3v1h-3z"/>
<path fill="#bbfb00" d="M4 1h3v1h-3zM36 1h2v1h-2zM5 12h6v1h-6zM3 13h1v1h-1zM11 13h1v1h-1zM3 14h1v1h-1zM3 15h1v1h-1zM11 15h1v1h-1zM5 16h1v1h-1zM9 16h2v1h-2zM24 17h1v1h-1zM21 18h1v1h-1zM26 18h1v1h-1zM40 18h2v1h-2zM17 19h1v1h-1zM39 19h1v1h-1zM42 19h2v1h-2zM15 20h1v1h-1zM39 20h1v1h-1zM43 20h3v1h-3zM14 21h1v1h-1zM27 21h1v1h-1zM39 21h1v1h-1zM45 21h2v1h-2zM50 21h3v1h-3zM58 21h3v1h-3zM13 22h1v1h-1zM27 22h1v1h-1zM43 22h3v1h-3zM27 23h1v1h-1zM43 23h4v1h-4zM13 24h1v1h-1zM26 24h1v1h-1zM40 24h1v1h-1zM55 24h1v1h-1zM13 25h1v1h-1zM24 25h1v1h-1zM41 25h1v1h-1zM48 25h1v1h-1zM13 26h1v1h-1zM41 26h1v1h-1zM47 26h1v1h-1zM13 27h1v1h-1zM40 27h1v1h-1zM46 27h1v1h-1zM13 28h2v1h-2zM21 28h1v1h-1zM45 28h1v1h-1zM14 29h2v1h-2zM19 29h1v1h-1zM41 29h1v1h-1zM44 29h1v1h-1zM50 32h3v1h-3zM31 33h1v1h-1zM35 33h1v1h-1zM29 34h1v1h-1zM36 34h1v1h-1zM47 34h1v1h-1zM28 35h1v1h-1zM35 35h1v1h-1zM34 36h1v1h-1zM6 37h3v1h-3zM23 37h1v1h-1zM31 37h1v1h-1zM46 37h1v1h-1zM56 37h1v1h-1zM6 38h1v1h-1zM10 38h1v1h-1zM29 38h1v1h-1zM46 38h2v1h-2zM55 38h1v1h-1zM7 39h1v1h-1zM46 39h6v1h-6zM13 40h1v1h-1zM45 40h3v1h-3zM10 41h1v1h-1zM45 41h4v1h-4zM12 42h2v1h-2zM45 42h5v1h-5zM13 43h1v1h-1zM45 43h2v1h-2zM49 43h2v1h-2zM22 44h1v1h-1zM45 44h1v1h-1zM50 44h1v1h-1zM21 45h1v1h-1zM45 45h1v1h-1zM20 47h1v1h-1z"/>
<path fill="#04ce26" d="M48 6h3v1h-3zM30 7h6v1h-6zM47 7h5v1h-5zM29 8h2v1h-2zM36 8h1v1h-1zM46 8h2v1h-2zM52 8h1v1h-1zM29 9h2v1h-2zM36 9h1v1h-1zM46 9h1v1h-1zM52 9h1v1h-1zM30 10h1v1h-1zM36 10h1v1h-1zM46 10h1v1h-1zM52 10h1v1h-1zM16 11h3v1h-3zM31 11h2v1h-2zM35 11h1v1h-1zM46 11h2v1h-2zM51 11h2v1h-2zM15 12h1v1h-1zM20 12h1v1h-1zM32 12h3v1h-3zM47 12h5v1h-5zM48 13h3v1h-3zM14 14h1v1h-1zM20 16h1v1h-1zM14 17h1v1h-1zM32 17h3v1h-3zM31 18h1v1h-1zM36 18h1v1h-1zM0 19h1v1h-1zM30 19h1v1h-1zM1 20h2v1h-2zM30 20h1v1h-1zM2 21h2v1h-2zM37 21h1v1h-1zM4 22h1v1h-1zM4 23h2v1h-2zM4 24h2v1h-2zM29 24h1v1h-1zM37 24h1v1h-1zM3 25h3v1h-3zM56 25h1v1h-1zM0 26h6v1h-6zM27 26h1v1h-1zM37 26h1v1h-1zM51 26h1v1h-1zM3 27h3v1h-3zM27 27h1v1h-1zM3 28h4v1h-4zM32 28h1v1h-1zM36 28h1v1h-1zM3 29h2v1h-2zM7 29h1v1h-1zM23 29h1v1h-1zM31 29h1v1h-1zM0 30h2v1h-2zM8 30h1v1h-1zM22 30h1v1h-1zM30 30h1v1h-1zM49 30h1v1h-1zM0 31h1v1h-1zM9 31h1v1h-1zM52 31h1v1h-1zM0 32h1v1h-1zM10 32h1v1h-1zM17 32h1v1h-1zM0 33h1v1h-1zM10 33h2v1h-2zM15 33h1v1h-1zM41 33h1v1h-1zM61 33h1v1h-1zM0 34h1v1h-1zM8 34h4v1h-4zM14 34h1v1h-1zM41 34h1v1h-1zM58 34h1v1h-1zM60 34h1v1h-1zM0 35h2v1h-2zM12 35h3v1h-3zM25 35h1v1h-1zM60 35h1v1h-1zM13 36h2v1h-2zM23 36h1v1h-1zM59 36h2v1h-2zM14 37h1v1h-1zM59 37h1v1h-1zM15 38h1v1h-1zM36 38h4v1h-4zM32 39h1v1h-1zM39 39h1v1h-1zM0 40h3v1h-3zM30 40h1v1h-1zM0 41h6v1h-6zM29 41h1v1h-1zM0 42h1v1h-1zM7 42h1v1h-1zM28 42h1v1h-1zM0 43h1v1h-1zM9 43h1v1h-1zM29 43h1v1h-1zM39 43h1v1h-1zM60 43h2v1h-2zM0 44h1v1h-1zM38 44h2v1h-2zM56 44h6v1h-6zM0 45h2v1h-2zM31 45h1v1h-1zM37 45h2v1h-2zM54 45h1v1h-1zM3 46h1v1h-1zM33 46h1v1h-1zM37 46h2v1h-2zM54 46h1v1h-1zM10 47h1v1h-1zM33 47h2v1h-2zM36 47h2v1h-2zM54 47h1v1h-1z"/>
<path fill="#00c43a" d="M31 8h5v1h-5zM48 8h4v1h-4zM31 9h2v1h-2zM35 9h1v1h-1zM47 9h5v1h-5zM31 10h2v1h-2zM34 10h2v1h-2zM47 10h5v1h-5zM33 11h2v1h-2zM48 11h3v1h-3zM16 12h1v1h-1zM19 12h1v1h-1zM15 13h1v1h-1zM20 13h1v1h-1zM20 14h1v1h-1zM14 15h1v1h-1zM20 15h1v1h-1zM14 16h1v1h-1zM15 17h1v1h-1zM17 17h2v1h-2zM32 18h4v1h-4zM31 19h1v1h-1zM36 19h1v1h-1zM0 20h1v1h-1zM1 21h1v1h-1zM30 21h1v1h-1zM3 22h1v1h-1zM30 22h1v1h-1zM3 23h1v1h-1zM30 23h1v1h-1zM3 24h1v1h-1zM30 24h1v1h-1zM1 25h2v1h-2zM28 25h1v1h-1zM30 25h4v1h-4zM37 25h1v1h-1zM57 25h1v1h-1zM28 26h6v1h-6zM36 26h1v1h-1zM28 27h6v1h-6zM36 27h1v1h-1zM25 28h1v1h-1zM29 28h3v1h-3zM33 28h3v1h-3zM49 28h1v1h-1zM5 29h2v1h-2zM30 29h1v1h-1zM49 29h1v1h-1zM2 30h2v1h-2zM7 30h1v1h-1zM50 30h1v1h-1zM1 31h1v1h-1zM21 31h1v1h-1zM29 31h1v1h-1zM53 31h1v1h-1zM9 32h1v1h-1zM18 32h2v1h-2zM57 32h1v1h-1zM9 33h1v1h-1zM16 33h1v1h-1zM58 33h1v1h-1zM60 33h1v1h-1zM1 34h2v1h-2zM5 34h3v1h-3zM15 34h1v1h-1zM26 34h1v1h-1zM15 35h1v1h-1zM59 35h1v1h-1zM15 36h2v1h-2zM22 36h1v1h-1zM15 37h4v1h-4zM16 38h2v1h-2zM33 39h6v1h-6zM31 40h1v1h-1zM39 40h1v1h-1zM39 41h1v1h-1zM1 42h6v1h-6zM29 42h1v1h-1zM39 42h1v1h-1zM1 43h2v1h-2zM8 43h1v1h-1zM37 43h2v1h-2zM1 44h1v1h-1zM10 44h1v1h-1zM30 44h1v1h-1zM36 44h2v1h-2zM2 45h1v1h-1zM10 45h1v1h-1zM32 45h1v1h-1zM35 45h2v1h-2zM55 45h1v1h-1zM60 45h2v1h-2zM4 46h1v1h-1zM10 46h1v1h-1zM34 46h3v1h-3zM60 46h2v1h-2zM6 47h1v1h-1zM9 47h1v1h-1zM35 47h1v1h-1zM60 47h2v1h-2z"/>
<path fill="#00c55c" d="M33 9h2v1h-2zM33 10h1v1h-1zM17 12h2v1h-2zM19 13h1v1h-1zM15 14h1v1h-1zM19 16h1v1h-1zM16 17h1v1h-1zM32 19h1v1h-1zM31 20h1v1h-1zM0 21h1v1h-1zM2 22h1v1h-1zM2 23h1v1h-1zM31 23h1v1h-1zM2 24h1v1h-1zM31 24h2v1h-2zM0 25h1v1h-1zM29 25h1v1h-1zM34 25h3v1h-3zM58 25h1v1h-1zM61 25h1v1h-1zM34 26h2v1h-2zM52 26h1v1h-1zM34 27h2v1h-2zM50 27h1v1h-1zM26 28h3v1h-3zM29 29h1v1h-1zM4 30h3v1h-3zM29 30h1v1h-1zM2 31h1v1h-1zM8 31h1v1h-1zM54 31h1v1h-1zM1 32h1v1h-1zM8 32h1v1h-1zM28 32h1v1h-1zM61 32h1v1h-1zM1 33h1v1h-1zM7 33h2v1h-2zM17 33h1v1h-1zM27 33h1v1h-1zM59 33h1v1h-1zM3 34h2v1h-2zM16 34h1v1h-1zM59 34h1v1h-1zM16 35h1v1h-1zM17 36h2v1h-2zM32 40h7v1h-7zM30 41h2v1h-2zM38 41h1v1h-1zM30 42h1v1h-1zM37 42h2v1h-2zM3 43h5v1h-5zM30 43h1v1h-1zM35 43h2v1h-2zM2 44h4v1h-4zM8 44h2v1h-2zM31 44h1v1h-1zM34 44h2v1h-2zM3 45h2v1h-2zM9 45h1v1h-1zM33 45h2v1h-2zM56 45h4v1h-4zM5 46h2v1h-2zM9 46h1v1h-1zM55 46h1v1h-1zM7 47h2v1h-2zM55 47h1v1h-1z"/>
<path fill="#cefe00" d="M4 13h2v1h-2zM10 13h1v1h-1zM4 14h1v1h-1zM11 14h1v1h-1zM4 15h2v1h-2zM10 15h1v1h-1zM6 16h3v1h-3zM22 18h4v1h-4zM26 19h1v1h-1zM40 19h2v1h-2zM40 20h1v1h-1zM42 20h1v1h-1zM42 21h3v1h-3zM47 21h3v1h-3zM42 22h1v1h-1zM46 22h2v1h-2zM53 22h9v1h-9zM13 23h1v1h-1zM42 23h1v1h-1zM47 23h1v1h-1zM61 23h1v1h-1zM41 24h8v1h-8zM52 24h3v1h-3zM14 25h1v1h-1zM42 25h1v1h-1zM47 25h1v1h-1zM14 26h1v1h-1zM23 26h1v1h-1zM14 27h2v1h-2zM22 27h1v1h-1zM41 27h1v1h-1zM15 28h1v1h-1zM41 28h1v1h-1zM44 28h1v1h-1zM16 29h3v1h-3zM42 29h2v1h-2zM32 33h3v1h-3zM48 33h1v1h-1zM55 33h1v1h-1zM30 34h1v1h-1zM35 34h1v1h-1zM56 34h1v1h-1zM47 35h1v1h-1zM27 36h1v1h-1zM33 36h1v1h-1zM56 36h1v1h-1zM24 37h1v1h-1zM30 37h1v1h-1zM47 37h1v1h-1zM7 38h3v1h-3zM20 38h1v1h-1zM48 38h1v1h-1zM54 38h1v1h-1zM8 39h1v1h-1zM11 39h1v1h-1zM19 39h1v1h-1zM9 40h1v1h-1zM12 40h1v1h-1zM26 40h1v1h-1zM11 41h5v1h-5zM25 41h1v1h-1zM14 42h1v1h-1zM24 42h1v1h-1zM14 43h1v1h-1zM23 43h1v1h-1zM47 43h2v1h-2zM14 44h1v1h-1zM46 44h1v1h-1zM49 44h1v1h-1zM14 45h1v1h-1zM50 45h1v1h-1zM14 46h1v1h-1zM20 46h1v1h-1zM45 46h1v1h-1zM50 46h1v1h-1zM14 47h1v1h-1zM45 47h1v1h-1zM50 47h1v1h-1z"/>
<path fill="#ddff00" d="M6 13h4v1h-4zM5 14h1v1h-1zM10 14h1v1h-1zM6 15h2v1h-2zM9 15h1v1h-1zM18 19h1v1h-1zM25 19h1v1h-1zM16 20h1v1h-1zM26 20h1v1h-1zM41 20h1v1h-1zM15 21h1v1h-1zM26 21h1v1h-1zM40 21h2v1h-2zM14 22h1v1h-1zM39 22h1v1h-1zM41 22h1v1h-1zM48 22h5v1h-5zM14 23h1v1h-1zM39 23h1v1h-1zM41 23h1v1h-1zM48 23h1v1h-1zM52 23h9v1h-9zM14 24h1v1h-1zM49 24h3v1h-3zM15 25h1v1h-1zM23 25h1v1h-1zM43 25h1v1h-1zM46 25h1v1h-1zM15 26h1v1h-1zM22 26h1v1h-1zM42 26h1v1h-1zM46 26h1v1h-1zM16 27h1v1h-1zM21 27h1v1h-1zM42 27h1v1h-1zM44 27h2v1h-2zM16 28h5v1h-5zM42 28h2v1h-2zM31 34h1v1h-1zM34 34h1v1h-1zM29 35h1v1h-1zM34 35h1v1h-1zM56 35h1v1h-1zM28 36h1v1h-1zM32 36h1v1h-1zM47 36h1v1h-1zM25 37h2v1h-2zM29 37h1v1h-1zM28 38h1v1h-1zM49 38h1v1h-1zM53 38h1v1h-1zM9 39h2v1h-2zM27 39h1v1h-1zM10 40h2v1h-2zM18 40h1v1h-1zM16 41h1v1h-1zM15 42h1v1h-1zM21 44h1v1h-1zM47 44h2v1h-2zM20 45h1v1h-1zM46 45h1v1h-1zM49 45h1v1h-1zM19 47h1v1h-1z"/>
<path fill="#00c67f" d="M16 13h3v1h-3zM19 14h1v1h-1zM15 15h1v1h-1zM15 16h1v1h-1zM33 19h3v1h-3zM36 20h1v1h-1zM31 21h1v1h-1zM1 22h1v1h-1zM31 22h1v1h-1zM36 23h1v1h-1zM1 24h1v1h-1zM33 24h1v1h-1zM36 24h1v1h-1zM59 25h2v1h-2zM53 26h1v1h-1zM50 28h1v1h-1zM24 29h1v1h-1zM28 29h1v1h-1zM50 29h1v1h-1zM23 30h1v1h-1zM51 30h1v1h-1zM3 31h5v1h-5zM22 31h1v1h-1zM2 32h2v1h-2zM7 32h1v1h-1zM20 32h1v1h-1zM58 32h3v1h-3zM2 33h5v1h-5zM18 33h1v1h-1zM17 34h1v1h-1zM17 35h1v1h-1zM24 35h1v1h-1zM19 36h3v1h-3zM32 41h6v1h-6zM31 42h1v1h-1zM34 42h3v1h-3zM31 43h1v1h-1zM34 43h1v1h-1zM6 44h2v1h-2zM32 44h2v1h-2zM5 45h4v1h-4zM7 46h2v1h-2zM56 46h4v1h-4zM56 47h4v1h-4z"/>
<path fill="#e9ff00" d="M6 14h4v1h-4zM8 15h1v1h-1zM19 19h2v1h-2zM17 20h1v1h-1zM40 22h1v1h-1zM40 23h1v1h-1zM49 23h3v1h-3zM25 24h1v1h-1zM44 25h2v1h-2zM16 26h1v1h-1zM43 26h3v1h-3zM17 27h2v1h-2zM20 27h1v1h-1zM43 27h1v1h-1zM32 34h2v1h-2zM30 35h4v1h-4zM29 36h3v1h-3zM27 37h2v1h-2zM48 37h1v1h-1zM55 37h1v1h-1zM27 38h1v1h-1zM50 38h3v1h-3zM17 41h1v1h-1zM15 43h1v1h-1zM22 43h1v1h-1zM15 44h1v1h-1zM15 45h1v1h-1zM19 45h1v1h-1zM47 45h2v1h-2zM15 46h1v1h-1zM19 46h1v1h-1zM46 46h4v1h-4zM15 47h1v1h-1zM18 47h1v1h-1zM46 47h1v1h-1zM49 47h1v1h-1z"/>
<path fill="#00c8a1" d="M16 14h1v1h-1zM19 15h1v1h-1zM16 16h3v1h-3zM32 20h1v1h-1zM36 21h1v1h-1zM0 22h1v1h-1zM36 22h1v1h-1zM1 23h1v1h-1zM32 23h1v1h-1zM34 24h2v1h-2zM27 29h1v1h-1zM28 30h1v1h-1zM52 30h1v1h-1zM28 31h1v1h-1zM55 31h1v1h-1zM61 31h1v1h-1zM4 32h3v1h-3zM21 32h1v1h-1zM27 32h1v1h-1zM19 33h1v1h-1zM26 33h1v1h-1zM18 34h1v1h-1zM25 34h1v1h-1zM18 35h1v1h-1zM23 35h1v1h-1zM32 42h2v1h-2zM32 43h2v1h-2z"/>
<path fill="#00c4bd" d="M17 14h2v1h-2zM16 15h3v1h-3zM33 20h3v1h-3zM32 21h1v1h-1zM32 22h1v1h-1zM0 24h1v1h-1zM54 26h1v1h-1zM51 27h1v1h-1zM25 29h2v1h-2zM51 29h1v1h-1zM23 31h1v1h-1zM56 31h2v1h-2zM59 31h2v1h-2zM22 32h1v1h-1zM20 33h1v1h-1zM19 34h1v1h-1zM19 35h1v1h-1z"/>
<path fill="#f5fb00" d="M21 19h4v1h-4zM25 20h1v1h-1zM16 21h1v1h-1zM15 22h1v1h-1zM26 22h1v1h-1zM15 23h1v1h-1zM26 23h1v1h-1zM15 24h1v1h-1zM16 25h1v1h-1zM22 25h1v1h-1zM17 26h2v1h-2zM20 26h2v1h-2zM19 27h1v1h-1zM49 33h1v1h-1zM54 33h1v1h-1zM48 34h1v1h-1zM21 38h1v1h-1zM26 39h1v1h-1zM25 40h1v1h-1zM24 41h1v1h-1zM16 42h1v1h-1zM23 42h1v1h-1zM16 43h1v1h-1zM16 44h1v1h-1zM20 44h1v1h-1zM16 45h1v1h-1zM18 45h1v1h-1zM16 46h1v1h-1zM18 46h1v1h-1zM16 47h2v1h-2zM47 47h2v1h-2z"/>
<path fill="#fff300" d="M18 20h1v1h-1zM24 20h1v1h-1zM25 21h1v1h-1zM16 24h1v1h-1zM24 24h1v1h-1zM17 25h2v1h-2zM21 25h1v1h-1zM19 26h1v1h-1zM55 34h1v1h-1zM48 35h1v1h-1zM48 36h1v1h-1zM55 36h1v1h-1zM49 37h1v1h-1zM54 37h1v1h-1zM26 38h1v1h-1zM19 40h1v1h-1zM18 41h1v1h-1zM17 42h1v1h-1zM17 43h1v1h-1zM21 43h1v1h-1zM17 44h3v1h-3zM17 45h1v1h-1zM17 46h1v1h-1z"/>
<path fill="#ffe300" d="M19 20h1v1h-1zM23 20h1v1h-1zM17 21h1v1h-1zM16 22h1v1h-1zM16 23h1v1h-1zM23 24h1v1h-1zM19 25h2v1h-2zM50 33h1v1h-1zM53 33h1v1h-1zM55 35h1v1h-1zM22 38h1v1h-1zM25 38h1v1h-1zM20 39h1v1h-1zM18 42h1v1h-1zM22 42h1v1h-1zM18 43h3v1h-3z"/>
<path fill="#ffd400" d="M20 20h3v1h-3zM18 21h1v1h-1zM24 21h1v1h-1zM17 22h1v1h-1zM25 22h1v1h-1zM25 23h1v1h-1zM17 24h1v1h-1zM22 24h1v1h-1zM50 37h1v1h-1zM53 37h1v1h-1zM23 38h2v1h-2zM25 39h1v1h-1zM24 40h1v1h-1zM23 41h1v1h-1z"/>
<path fill="#ffc600" d="M19 21h1v1h-1zM23 21h1v1h-1zM17 23h1v1h-1zM18 24h4v1h-4zM51 33h2v1h-2zM49 34h1v1h-1zM49 36h1v1h-1zM51 37h2v1h-2zM19 41h1v1h-1zM19 42h3v1h-3z"/>
<path fill="#fdb500" d="M20 21h3v1h-3zM18 22h1v1h-1zM24 22h1v1h-1zM18 23h1v1h-1zM24 23h1v1h-1zM54 34h1v1h-1zM49 35h1v1h-1zM54 36h1v1h-1zM21 39h1v1h-1zM24 39h1v1h-1zM20 40h1v1h-1z"/>
<path fill="#00c1d9" d="M33 21h1v1h-1zM35 21h1v1h-1zM0 23h1v1h-1zM33 23h1v1h-1zM35 23h1v1h-1zM55 26h1v1h-1zM61 26h1v1h-1zM51 28h1v1h-1zM24 30h1v1h-1zM27 30h1v1h-1zM53 30h1v1h-1zM61 30h1v1h-1zM27 31h1v1h-1zM58 31h1v1h-1zM26 32h1v1h-1zM21 33h1v1h-1zM25 33h1v1h-1zM20 34h1v1h-1zM24 34h1v1h-1zM20 35h3v1h-3z"/>
<path fill="#00bcf1" d="M34 21h1v1h-1zM33 22h3v1h-3zM34 23h1v1h-1zM56 26h1v1h-1zM60 26h1v1h-1zM52 27h1v1h-1zM52 29h1v1h-1zM25 30h2v1h-2zM54 30h1v1h-1zM60 30h1v1h-1zM24 31h1v1h-1zM26 31h1v1h-1zM23 32h1v1h-1zM22 33h3v1h-3zM21 34h3v1h-3z"/>
<path fill="#fba200" d="M19 22h2v1h-2zM22 22h2v1h-2zM19 23h5v1h-5zM23 40h1v1h-1zM20 41h1v1h-1zM22 41h1v1h-1z"/>
<path fill="#f79100" d="M21 22h1v1h-1zM50 34h1v1h-1zM54 35h1v1h-1zM50 36h1v1h-1zM22 39h2v1h-2zM21 40h1v1h-1zM21 41h1v1h-1z"/>
<path fill="#00b0f5" d="M57 26h3v1h-3zM61 27h1v1h-1zM52 28h1v1h-1zM61 29h1v1h-1zM55 30h1v1h-1zM59 30h1v1h-1zM25 31h1v1h-1zM24 32h2v1h-2z"/>
<path fill="#00a4fa" d="M53 27h1v1h-1zM60 27h1v1h-1zM61 28h1v1h-1zM53 29h1v1h-1zM60 29h1v1h-1zM56 30h3v1h-3z"/>
<path fill="#0089fa" d="M54 27h1v1h-1zM59 27h1v1h-1zM53 28h1v1h-1zM54 29h1v1h-1zM59 29h1v1h-1z"/>
<path fill="#0079f4" d="M55 27h4v1h-4zM54 28h1v1h-1zM59 28h1v1h-1zM55 29h1v1h-1zM57 29h2v1h-2z"/>
<path fill="#0068ee" d="M55 28h1v1h-1zM58 28h1v1h-1zM56 29h1v1h-1z"/>
<path fill="#0059e7" d="M56 28h2v1h-2z"/>
<path fill="#0098fe" d="M60 28h1v1h-1z"/>
<path fill="#e57600" d="M51 34h1v1h-1zM50 35h1v1h-1zM52 36h1v1h-1z"/>
<path fill="#dc6900" d="M52 34h1v1h-1zM51 35h3v1h-3z"/>
<path fill="#ee8400" d="M53 34h1v1h-1zM51 36h1v1h-1zM53 36h1v1h-1zM22 40h1v1h-1z"/>
</g>
</g>
<rect x="679" y="325" width="199" height="1" fill="#000"/>
<rect x="679" y="557" width="199" height="1" fill="#000"/>
<rect x="679" y="325" width="1" height="233" fill="#000"/>
<rect x="877" y="325" width="1" height="233" fill="#000"/>
<rect x="676" y="357" width="3" height="1" fill="#000"/>
<rect x="878" y="357" width="3" height="1" fill="#000"/>
<text x="673" y="361.3" font-size="12" text-anchor="end">44</text>
<rect x="655" y="357" width="4" height="1" fill="#000"/>
<rect x="676" y="395" width="3" height="1" fill="#000"/>
<rect x="878" y="395" width="3" height="1" fill="#000"/>
<text x="673" y="399.3" font-size="12" text-anchor="end">46</text>
<rect x="655" y="395" width="4" height="1" fill="#000"/>
<rect x="676" y="434" width="3" height="1" fill="#000"/>
<rect x="878" y="434" width="3" height="1" fill="#000"/>
<text x="673" y="438.3" font-size="12" text-anchor="end">48</text>
<rect x="655" y="434" width="4" height="1" fill="#000"/>
<rect x="676" y="473" width="3" height="1" fill="#000"/>
<rect x="878" y="473" width="3" height="1" fill="#000"/>
<text x="673" y="477.3" font-size="12" text-anchor="end">50</text>
<rect x="655" y="473" width="4" height="1" fill="#000"/>
<rect x="676" y="511" width="3" height="1" fill="#000"/>
<rect x="878" y="511" width="3" height="1" fill="#000"/>
<text x="673" y="515.3" font-size="12" text-anchor="end">52</text>
<rect x="655" y="511" width="4" height="1" fill="#000"/>
<rect x="676" y="550" width="3" height="1" fill="#000"/>
<rect x="878" y="550" width="3" height="1" fill="#000"/>
<text x="673" y="554.3" font-size="12" text-anchor="end">54</text>
<rect x="655" y="550" width="4" height="1" fill="#000"/>
<rect x="729" y="322" width="1" height="3" fill="#000"/>
<rect x="729" y="558" width="1" height="3" fill="#000"/>
<text x="729.5" y="573.7" font-size="12" text-anchor="middle">120</text>
<rect x="793" y="322" width="1" height="3" fill="#000"/>
<rect x="793" y="558" width="1" height="3" fill="#000"/>
<text x="793.5" y="573.7" font-size="12" text-anchor="middle">125</text>
<rect x="857" y="322" width="1" height="3" fill="#000"/>
<rect x="857" y="558" width="1" height="3" fill="#000"/>
<text x="857.5" y="573.7" font-size="12" text-anchor="middle">130</text>
<circle cx="778.5" cy="441.5" r="5.3" fill="#00b94b" stroke="#000" stroke-width="1.1"/>
<text x="687" y="316.4" font-size="12" text-anchor="start" textLength="180.2" lengthAdjust="spacing">Altimetric SLA: -0.11 Argo: -0.12</text>
</g>
<text transform="translate(890,547) rotate(-90)" font-size="12" textLength="167" lengthAdjust="spacing">CSIRO 03-Feb-2011 10:31:33</text>
</svg></body></html>
